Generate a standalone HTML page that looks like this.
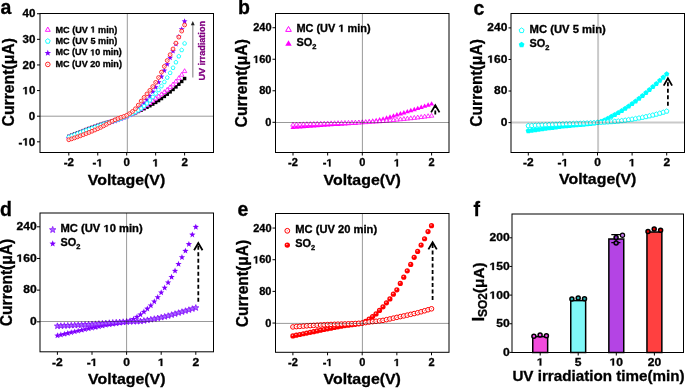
<!DOCTYPE html>
<html><head><meta charset="utf-8"><style>
html,body{margin:0;padding:0;background:#fff;}
body{width:685px;height:388px;overflow:hidden;}
svg{display:block;}
text{stroke:#000;stroke-width:0.3px;}
</style></head><body>
<svg style="will-change:transform" xmlns="http://www.w3.org/2000/svg" width="685" height="388" viewBox="0 0 685 388" font-family="'Liberation Sans', sans-serif" font-weight="bold">
<rect width="685" height="388" fill="#fff"/>
<text x="0.6" y="14.2" font-size="19.5">a</text><line x1="127.3" y1="13.5" x2="127.3" y2="152.5" stroke="#999" stroke-width="1"/><line x1="40" y1="116.2" x2="213.5" y2="116.2" stroke="#999" stroke-width="1"/><path d="M68.8,134.88 L69.56,136.93 L71.75,137.02 L70.04,138.38 L70.62,140.48 L68.8,139.28 L66.98,140.48 L67.56,138.38 L65.85,137.02 L68.04,136.93Z" fill="#7f00ff"/><path d="M71.7,133.72 L72.46,135.76 L74.64,135.86 L72.93,137.22 L73.52,139.32 L71.7,138.12 L69.87,139.32 L70.46,137.22 L68.75,135.86 L70.93,135.76Z" fill="#7f00ff"/><path d="M74.59,132.56 L75.35,134.61 L77.54,134.7 L75.83,136.06 L76.41,138.17 L74.59,136.96 L72.77,138.17 L73.35,136.06 L71.64,134.7 L73.83,134.61Z" fill="#7f00ff"/><path d="M77.49,131.41 L78.25,133.46 L80.43,133.56 L78.72,134.92 L79.31,137.02 L77.49,135.81 L75.66,137.02 L76.25,134.92 L74.54,133.56 L76.72,133.46Z" fill="#7f00ff"/><path d="M80.38,130.27 L81.14,132.32 L83.33,132.42 L81.62,133.78 L82.2,135.88 L80.38,134.67 L78.56,135.88 L79.14,133.78 L77.43,132.42 L79.62,132.32Z" fill="#7f00ff"/><path d="M83.28,129.14 L84.04,131.19 L86.22,131.28 L84.51,132.64 L85.1,134.75 L83.28,133.54 L81.45,134.75 L82.04,132.64 L80.33,131.28 L82.51,131.19Z" fill="#7f00ff"/><path d="M86.17,128.02 L86.93,130.07 L89.12,130.16 L87.41,131.52 L87.99,133.63 L86.17,132.42 L84.35,133.63 L84.93,131.52 L83.22,130.16 L85.41,130.07Z" fill="#7f00ff"/><path d="M89.06,126.9 L89.83,128.95 L92.01,129.05 L90.3,130.41 L90.89,132.51 L89.06,131.3 L87.24,132.51 L87.83,130.41 L86.12,129.05 L88.3,128.95Z" fill="#7f00ff"/><path d="M91.96,125.8 L92.72,127.84 L94.91,127.94 L93.2,129.3 L93.78,131.4 L91.96,130.2 L90.14,131.4 L90.72,129.3 L89.01,127.94 L91.2,127.84Z" fill="#7f00ff"/><path d="M94.86,124.7 L95.62,126.74 L97.8,126.84 L96.09,128.2 L96.68,130.3 L94.86,129.1 L93.03,130.3 L93.62,128.2 L91.91,126.84 L94.09,126.74Z" fill="#7f00ff"/><path d="M97.75,123.6 L98.51,125.65 L100.7,125.75 L98.99,127.11 L99.57,129.21 L97.75,128 L95.93,129.21 L96.51,127.11 L94.8,125.75 L96.99,125.65Z" fill="#7f00ff"/><path d="M100.65,122.56 L101.41,124.6 L103.59,124.7 L101.88,126.06 L102.47,128.16 L100.65,126.96 L98.82,128.16 L99.41,126.06 L97.7,124.7 L99.88,124.6Z" fill="#7f00ff"/><path d="M103.54,121.57 L104.3,123.62 L106.49,123.71 L104.78,125.07 L105.36,127.18 L103.54,125.97 L101.72,127.18 L102.3,125.07 L100.59,123.71 L102.78,123.62Z" fill="#7f00ff"/><path d="M106.44,120.63 L107.2,122.67 L109.38,122.77 L107.67,124.13 L108.26,126.23 L106.44,125.03 L104.61,126.23 L105.2,124.13 L103.49,122.77 L105.67,122.67Z" fill="#7f00ff"/><path d="M109.33,119.7 L110.09,121.74 L112.28,121.84 L110.57,123.2 L111.15,125.3 L109.33,124.1 L107.51,125.3 L108.09,123.2 L106.38,121.84 L108.57,121.74Z" fill="#7f00ff"/><path d="M112.23,118.76 L112.99,120.81 L115.17,120.9 L113.46,122.26 L114.05,124.37 L112.23,123.16 L110.4,124.37 L110.99,122.26 L109.28,120.9 L111.46,120.81Z" fill="#7f00ff"/><path d="M115.12,117.79 L115.88,119.83 L118.07,119.93 L116.36,121.29 L116.94,123.39 L115.12,122.19 L113.3,123.39 L113.88,121.29 L112.17,119.93 L114.36,119.83Z" fill="#7f00ff"/><path d="M118.02,116.76 L118.78,118.81 L120.96,118.9 L119.25,120.26 L119.84,122.37 L118.02,121.16 L116.19,122.37 L116.78,120.26 L115.07,118.9 L117.25,118.81Z" fill="#7f00ff"/><path d="M120.91,115.65 L121.67,117.7 L123.86,117.79 L122.15,119.15 L122.73,121.26 L120.91,120.05 L119.09,121.26 L119.67,119.15 L117.96,117.79 L120.15,117.7Z" fill="#7f00ff"/><path d="M123.81,114.44 L124.57,116.49 L126.75,116.58 L125.04,117.94 L125.63,120.05 L123.81,118.84 L121.98,120.05 L122.57,117.94 L120.86,116.58 L123.04,116.49Z" fill="#7f00ff"/><path d="M126.7,113.1 L127.46,115.15 L129.65,115.24 L127.94,116.6 L128.52,118.71 L126.7,117.5 L124.88,118.71 L125.46,116.6 L123.75,115.24 L125.94,115.15Z" fill="#7f00ff"/><path d="M129.59,111.6 L130.36,113.65 L132.54,113.74 L130.83,115.1 L131.42,117.21 L129.59,116 L127.77,117.21 L128.36,115.1 L126.65,113.74 L128.83,113.65Z" fill="#7f00ff"/><path d="M132.49,109.9 L133.25,111.95 L135.44,112.04 L133.73,113.4 L134.31,115.51 L132.49,114.3 L130.67,115.51 L131.25,113.4 L129.54,112.04 L131.73,111.95Z" fill="#7f00ff"/><path d="M135.38,107.97 L136.15,110.02 L138.33,110.12 L136.62,111.48 L137.21,113.58 L135.38,112.37 L133.56,113.58 L134.15,111.48 L132.44,110.12 L134.62,110.02Z" fill="#7f00ff"/><path d="M138.28,105.81 L139.04,107.85 L141.23,107.95 L139.52,109.31 L140.1,111.41 L138.28,110.21 L136.46,111.41 L137.04,109.31 L135.33,107.95 L137.52,107.85Z" fill="#7f00ff"/><path d="M141.18,103.36 L141.94,105.41 L144.12,105.51 L142.41,106.87 L143,108.97 L141.18,107.76 L139.35,108.97 L139.94,106.87 L138.23,105.51 L140.41,105.41Z" fill="#7f00ff"/><path d="M144.07,100.46 L144.83,102.5 L147.02,102.6 L145.31,103.96 L145.89,106.06 L144.07,104.86 L142.25,106.06 L142.83,103.96 L141.12,102.6 L143.31,102.5Z" fill="#7f00ff"/><path d="M146.97,96.97 L147.73,99.02 L149.91,99.11 L148.2,100.47 L148.79,102.58 L146.97,101.37 L145.14,102.58 L145.73,100.47 L144.02,99.11 L146.2,99.02Z" fill="#7f00ff"/><path d="M149.86,93.02 L150.62,95.07 L152.81,95.16 L151.1,96.52 L151.68,98.63 L149.86,97.42 L148.04,98.63 L148.62,96.52 L146.91,95.16 L149.1,95.07Z" fill="#7f00ff"/><path d="M152.75,88.71 L153.52,90.76 L155.7,90.85 L153.99,92.21 L154.58,94.32 L152.75,93.11 L150.93,94.32 L151.52,92.21 L149.81,90.85 L151.99,90.76Z" fill="#7f00ff"/><path d="M155.65,84.15 L156.41,86.2 L158.6,86.29 L156.89,87.65 L157.47,89.76 L155.65,88.55 L153.83,89.76 L154.41,87.65 L152.7,86.29 L154.89,86.2Z" fill="#7f00ff"/><path d="M158.55,79.15 L159.31,81.2 L161.49,81.29 L159.78,82.65 L160.37,84.76 L158.55,83.55 L156.72,84.76 L157.31,82.65 L155.6,81.29 L157.78,81.2Z" fill="#7f00ff"/><path d="M161.44,73.55 L162.2,75.6 L164.39,75.7 L162.68,77.06 L163.26,79.16 L161.44,77.95 L159.62,79.16 L160.2,77.06 L158.49,75.7 L160.68,75.6Z" fill="#7f00ff"/><path d="M164.34,67.51 L165.1,69.56 L167.28,69.65 L165.57,71.01 L166.16,73.12 L164.34,71.91 L162.51,73.12 L163.1,71.01 L161.39,69.65 L163.57,69.56Z" fill="#7f00ff"/><path d="M167.23,61.17 L167.99,63.22 L170.18,63.32 L168.47,64.68 L169.05,66.78 L167.23,65.57 L165.41,66.78 L165.99,64.68 L164.28,63.32 L166.47,63.22Z" fill="#7f00ff"/><path d="M170.12,54.69 L170.89,56.73 L173.07,56.83 L171.36,58.19 L171.95,60.29 L170.12,59.09 L168.3,60.29 L168.89,58.19 L167.18,56.83 L169.36,56.73Z" fill="#7f00ff"/><path d="M173.02,48.01 L173.78,50.06 L175.97,50.15 L174.26,51.51 L174.84,53.62 L173.02,52.41 L171.2,53.62 L171.78,51.51 L170.07,50.15 L172.26,50.06Z" fill="#7f00ff"/><path d="M175.91,41.02 L176.68,43.06 L178.86,43.16 L177.15,44.52 L177.74,46.62 L175.91,45.42 L174.09,46.62 L174.68,44.52 L172.97,43.16 L175.15,43.06Z" fill="#7f00ff"/><path d="M178.81,33.72 L179.57,35.77 L181.76,35.87 L180.05,37.22 L180.63,39.33 L178.81,38.12 L176.99,39.33 L177.57,37.22 L175.86,35.87 L178.05,35.77Z" fill="#7f00ff"/><path d="M181.7,26.15 L182.47,28.2 L184.65,28.29 L182.94,29.65 L183.53,31.76 L181.7,30.55 L179.88,31.76 L180.47,29.65 L178.76,28.29 L180.94,28.2Z" fill="#7f00ff"/><path d="M184.6,18.31 L185.36,20.35 L187.55,20.45 L185.84,21.81 L186.42,23.91 L184.6,22.71 L182.78,23.91 L183.36,21.81 L181.65,20.45 L183.84,20.35Z" fill="#7f00ff"/><rect x="67.05" y="134.69" width="3.5" height="3.5" fill="#000"/><rect x="69.95" y="133.51" width="3.5" height="3.5" fill="#000"/><rect x="72.84" y="132.34" width="3.5" height="3.5" fill="#000"/><rect x="75.74" y="131.19" width="3.5" height="3.5" fill="#000"/><rect x="78.63" y="130.06" width="3.5" height="3.5" fill="#000"/><rect x="81.53" y="128.95" width="3.5" height="3.5" fill="#000"/><rect x="84.42" y="127.85" width="3.5" height="3.5" fill="#000"/><rect x="87.31" y="126.78" width="3.5" height="3.5" fill="#000"/><rect x="90.21" y="125.72" width="3.5" height="3.5" fill="#000"/><rect x="93.11" y="124.69" width="3.5" height="3.5" fill="#000"/><rect x="96" y="123.67" width="3.5" height="3.5" fill="#000"/><rect x="98.9" y="122.7" width="3.5" height="3.5" fill="#000"/><rect x="101.79" y="121.77" width="3.5" height="3.5" fill="#000"/><rect x="104.69" y="120.88" width="3.5" height="3.5" fill="#000"/><rect x="107.58" y="120.01" width="3.5" height="3.5" fill="#000"/><rect x="110.48" y="119.15" width="3.5" height="3.5" fill="#000"/><rect x="113.37" y="118.28" width="3.5" height="3.5" fill="#000"/><rect x="116.27" y="117.38" width="3.5" height="3.5" fill="#000"/><rect x="119.16" y="116.46" width="3.5" height="3.5" fill="#000"/><rect x="122.06" y="115.49" width="3.5" height="3.5" fill="#000"/><rect x="124.95" y="114.45" width="3.5" height="3.5" fill="#000"/><rect x="127.84" y="113.34" width="3.5" height="3.5" fill="#000"/><rect x="130.74" y="112.17" width="3.5" height="3.5" fill="#000"/><rect x="133.63" y="110.94" width="3.5" height="3.5" fill="#000"/><rect x="136.53" y="109.64" width="3.5" height="3.5" fill="#000"/><rect x="139.43" y="108.3" width="3.5" height="3.5" fill="#000"/><rect x="142.32" y="106.91" width="3.5" height="3.5" fill="#000"/><rect x="145.22" y="105.46" width="3.5" height="3.5" fill="#000"/><rect x="148.11" y="103.94" width="3.5" height="3.5" fill="#000"/><rect x="151" y="102.33" width="3.5" height="3.5" fill="#000"/><rect x="153.9" y="100.62" width="3.5" height="3.5" fill="#000"/><rect x="156.8" y="98.76" width="3.5" height="3.5" fill="#000"/><rect x="159.69" y="96.77" width="3.5" height="3.5" fill="#000"/><rect x="162.59" y="94.65" width="3.5" height="3.5" fill="#000"/><rect x="165.48" y="92.42" width="3.5" height="3.5" fill="#000"/><rect x="168.38" y="90.11" width="3.5" height="3.5" fill="#000"/><rect x="171.27" y="87.69" width="3.5" height="3.5" fill="#000"/><rect x="174.16" y="85.14" width="3.5" height="3.5" fill="#000"/><rect x="177.06" y="82.47" width="3.5" height="3.5" fill="#000"/><rect x="179.95" y="79.68" width="3.5" height="3.5" fill="#000"/><rect x="182.85" y="76.79" width="3.5" height="3.5" fill="#000"/><path d="M68.8,134.28 L71.05,138.19 L66.55,138.19Z" fill="#fff" stroke="#f0f" stroke-width="0.8" stroke-linejoin="round"/><path d="M71.7,133.16 L73.95,137.07 L69.44,137.07Z" fill="#fff" stroke="#f0f" stroke-width="0.8" stroke-linejoin="round"/><path d="M74.59,132.05 L76.84,135.96 L72.34,135.96Z" fill="#fff" stroke="#f0f" stroke-width="0.8" stroke-linejoin="round"/><path d="M77.49,130.94 L79.74,134.85 L75.23,134.85Z" fill="#fff" stroke="#f0f" stroke-width="0.8" stroke-linejoin="round"/><path d="M80.38,129.85 L82.63,133.76 L78.13,133.76Z" fill="#fff" stroke="#f0f" stroke-width="0.8" stroke-linejoin="round"/><path d="M83.28,128.77 L85.53,132.68 L81.02,132.68Z" fill="#fff" stroke="#f0f" stroke-width="0.8" stroke-linejoin="round"/><path d="M86.17,127.7 L88.42,131.61 L83.92,131.61Z" fill="#fff" stroke="#f0f" stroke-width="0.8" stroke-linejoin="round"/><path d="M89.06,126.64 L91.32,130.55 L86.81,130.55Z" fill="#fff" stroke="#f0f" stroke-width="0.8" stroke-linejoin="round"/><path d="M91.96,125.59 L94.21,129.5 L89.71,129.5Z" fill="#fff" stroke="#f0f" stroke-width="0.8" stroke-linejoin="round"/><path d="M94.86,124.55 L97.11,128.46 L92.6,128.46Z" fill="#fff" stroke="#f0f" stroke-width="0.8" stroke-linejoin="round"/><path d="M97.75,123.52 L100,127.43 L95.5,127.43Z" fill="#fff" stroke="#f0f" stroke-width="0.8" stroke-linejoin="round"/><path d="M100.65,122.53 L102.9,126.44 L98.39,126.44Z" fill="#fff" stroke="#f0f" stroke-width="0.8" stroke-linejoin="round"/><path d="M103.54,121.58 L105.79,125.49 L101.29,125.49Z" fill="#fff" stroke="#f0f" stroke-width="0.8" stroke-linejoin="round"/><path d="M106.44,120.66 L108.69,124.57 L104.18,124.57Z" fill="#fff" stroke="#f0f" stroke-width="0.8" stroke-linejoin="round"/><path d="M109.33,119.76 L111.58,123.67 L107.08,123.67Z" fill="#fff" stroke="#f0f" stroke-width="0.8" stroke-linejoin="round"/><path d="M112.23,118.86 L114.48,122.77 L109.97,122.77Z" fill="#fff" stroke="#f0f" stroke-width="0.8" stroke-linejoin="round"/><path d="M115.12,117.94 L117.37,121.85 L112.87,121.85Z" fill="#fff" stroke="#f0f" stroke-width="0.8" stroke-linejoin="round"/><path d="M118.02,116.99 L120.27,120.9 L115.76,120.9Z" fill="#fff" stroke="#f0f" stroke-width="0.8" stroke-linejoin="round"/><path d="M120.91,115.99 L123.16,119.9 L118.66,119.9Z" fill="#fff" stroke="#f0f" stroke-width="0.8" stroke-linejoin="round"/><path d="M123.81,114.93 L126.06,118.84 L121.55,118.84Z" fill="#fff" stroke="#f0f" stroke-width="0.8" stroke-linejoin="round"/><path d="M126.7,113.78 L128.95,117.7 L124.45,117.7Z" fill="#fff" stroke="#f0f" stroke-width="0.8" stroke-linejoin="round"/><path d="M129.59,112.55 L131.85,116.46 L127.34,116.46Z" fill="#fff" stroke="#f0f" stroke-width="0.8" stroke-linejoin="round"/><path d="M132.49,111.22 L134.74,115.13 L130.24,115.13Z" fill="#fff" stroke="#f0f" stroke-width="0.8" stroke-linejoin="round"/><path d="M135.38,109.8 L137.64,113.71 L133.13,113.71Z" fill="#fff" stroke="#f0f" stroke-width="0.8" stroke-linejoin="round"/><path d="M138.28,108.26 L140.53,112.17 L136.03,112.17Z" fill="#fff" stroke="#f0f" stroke-width="0.8" stroke-linejoin="round"/><path d="M141.18,106.61 L143.43,110.52 L138.92,110.52Z" fill="#fff" stroke="#f0f" stroke-width="0.8" stroke-linejoin="round"/><path d="M144.07,104.78 L146.32,108.69 L141.82,108.69Z" fill="#fff" stroke="#f0f" stroke-width="0.8" stroke-linejoin="round"/><path d="M146.97,102.73 L149.22,106.64 L144.71,106.64Z" fill="#fff" stroke="#f0f" stroke-width="0.8" stroke-linejoin="round"/><path d="M149.86,100.55 L152.11,104.46 L147.61,104.46Z" fill="#fff" stroke="#f0f" stroke-width="0.8" stroke-linejoin="round"/><path d="M152.75,98.32 L155.01,102.23 L150.5,102.23Z" fill="#fff" stroke="#f0f" stroke-width="0.8" stroke-linejoin="round"/><path d="M155.65,96.11 L157.9,100.02 L153.4,100.02Z" fill="#fff" stroke="#f0f" stroke-width="0.8" stroke-linejoin="round"/><path d="M158.55,93.97 L160.8,97.88 L156.29,97.88Z" fill="#fff" stroke="#f0f" stroke-width="0.8" stroke-linejoin="round"/><path d="M161.44,91.85 L163.69,95.76 L159.19,95.76Z" fill="#fff" stroke="#f0f" stroke-width="0.8" stroke-linejoin="round"/><path d="M164.34,89.67 L166.59,93.58 L162.08,93.58Z" fill="#fff" stroke="#f0f" stroke-width="0.8" stroke-linejoin="round"/><path d="M167.23,87.36 L169.48,91.27 L164.98,91.27Z" fill="#fff" stroke="#f0f" stroke-width="0.8" stroke-linejoin="round"/><path d="M170.12,84.83 L172.38,88.74 L167.87,88.74Z" fill="#fff" stroke="#f0f" stroke-width="0.8" stroke-linejoin="round"/><path d="M173.02,82.05 L175.27,85.96 L170.77,85.96Z" fill="#fff" stroke="#f0f" stroke-width="0.8" stroke-linejoin="round"/><path d="M175.91,79.02 L178.17,82.93 L173.66,82.93Z" fill="#fff" stroke="#f0f" stroke-width="0.8" stroke-linejoin="round"/><path d="M178.81,75.78 L181.06,79.69 L176.56,79.69Z" fill="#fff" stroke="#f0f" stroke-width="0.8" stroke-linejoin="round"/><path d="M181.7,72.33 L183.96,76.24 L179.45,76.24Z" fill="#fff" stroke="#f0f" stroke-width="0.8" stroke-linejoin="round"/><path d="M184.6,68.69 L186.85,72.6 L182.35,72.6Z" fill="#fff" stroke="#f0f" stroke-width="0.8" stroke-linejoin="round"/><path d="M68.8,134.9 L70.75,136.32 L70,138.61 L67.6,138.61 L66.85,136.32Z" fill="#fff" stroke="#0ff" stroke-width="0.85"/><path d="M71.7,133.79 L73.64,135.21 L72.9,137.5 L70.49,137.5 L69.75,135.21Z" fill="#fff" stroke="#0ff" stroke-width="0.85"/><path d="M74.59,132.69 L76.54,134.1 L75.79,136.4 L73.39,136.4 L72.64,134.1Z" fill="#fff" stroke="#0ff" stroke-width="0.85"/><path d="M77.49,131.59 L79.43,133.01 L78.69,135.3 L76.28,135.3 L75.54,133.01Z" fill="#fff" stroke="#0ff" stroke-width="0.85"/><path d="M80.38,130.5 L82.33,131.92 L81.58,134.21 L79.18,134.21 L78.43,131.92Z" fill="#fff" stroke="#0ff" stroke-width="0.85"/><path d="M83.28,129.42 L85.22,130.84 L84.48,133.13 L82.07,133.13 L81.33,130.84Z" fill="#fff" stroke="#0ff" stroke-width="0.85"/><path d="M86.17,128.35 L88.12,129.77 L87.37,132.06 L84.97,132.06 L84.22,129.77Z" fill="#fff" stroke="#0ff" stroke-width="0.85"/><path d="M89.06,127.29 L91.01,128.7 L90.27,131 L87.86,131 L87.12,128.7Z" fill="#fff" stroke="#0ff" stroke-width="0.85"/><path d="M91.96,126.23 L93.91,127.65 L93.16,129.94 L90.76,129.94 L90.01,127.65Z" fill="#fff" stroke="#0ff" stroke-width="0.85"/><path d="M94.86,125.18 L96.8,126.6 L96.06,128.89 L93.65,128.89 L92.91,126.6Z" fill="#fff" stroke="#0ff" stroke-width="0.85"/><path d="M97.75,124.14 L99.7,125.56 L98.95,127.85 L96.55,127.85 L95.8,125.56Z" fill="#fff" stroke="#0ff" stroke-width="0.85"/><path d="M100.65,123.13 L102.59,124.55 L101.85,126.84 L99.44,126.84 L98.7,124.55Z" fill="#fff" stroke="#0ff" stroke-width="0.85"/><path d="M103.54,122.17 L105.49,123.59 L104.74,125.88 L102.34,125.88 L101.59,123.59Z" fill="#fff" stroke="#0ff" stroke-width="0.85"/><path d="M106.44,121.24 L108.38,122.66 L107.64,124.95 L105.23,124.95 L104.49,122.66Z" fill="#fff" stroke="#0ff" stroke-width="0.85"/><path d="M109.33,120.32 L111.28,121.74 L110.53,124.03 L108.13,124.03 L107.38,121.74Z" fill="#fff" stroke="#0ff" stroke-width="0.85"/><path d="M112.23,119.4 L114.17,120.82 L113.43,123.11 L111.02,123.11 L110.28,120.82Z" fill="#fff" stroke="#0ff" stroke-width="0.85"/><path d="M115.12,118.46 L117.07,119.88 L116.32,122.17 L113.92,122.17 L113.17,119.88Z" fill="#fff" stroke="#0ff" stroke-width="0.85"/><path d="M118.02,117.48 L119.96,118.9 L119.22,121.19 L116.81,121.19 L116.07,118.9Z" fill="#fff" stroke="#0ff" stroke-width="0.85"/><path d="M120.91,116.45 L122.86,117.86 L122.11,120.15 L119.71,120.15 L118.96,117.86Z" fill="#fff" stroke="#0ff" stroke-width="0.85"/><path d="M123.81,115.34 L125.75,116.76 L125.01,119.05 L122.6,119.05 L121.86,116.76Z" fill="#fff" stroke="#0ff" stroke-width="0.85"/><path d="M126.7,114.15 L128.65,115.57 L127.9,117.86 L125.5,117.86 L124.75,115.57Z" fill="#fff" stroke="#0ff" stroke-width="0.85"/><path d="M129.59,112.88 L131.54,114.3 L130.8,116.59 L128.39,116.59 L127.65,114.3Z" fill="#fff" stroke="#0ff" stroke-width="0.85"/><path d="M132.49,111.52 L134.44,112.94 L133.69,115.23 L131.29,115.23 L130.54,112.94Z" fill="#fff" stroke="#0ff" stroke-width="0.85"/><path d="M135.38,110.03 L137.33,111.45 L136.59,113.74 L134.18,113.74 L133.44,111.45Z" fill="#fff" stroke="#0ff" stroke-width="0.85"/><path d="M138.28,108.36 L140.23,109.78 L139.48,112.07 L137.08,112.07 L136.33,109.78Z" fill="#fff" stroke="#0ff" stroke-width="0.85"/><path d="M141.18,106.46 L143.12,107.88 L142.38,110.17 L139.97,110.17 L139.23,107.88Z" fill="#fff" stroke="#0ff" stroke-width="0.85"/><path d="M144.07,104.18 L146.02,105.59 L145.27,107.88 L142.87,107.88 L142.12,105.59Z" fill="#fff" stroke="#0ff" stroke-width="0.85"/><path d="M146.97,101.44 L148.91,102.85 L148.17,105.15 L145.76,105.15 L145.02,102.85Z" fill="#fff" stroke="#0ff" stroke-width="0.85"/><path d="M149.86,98.36 L151.81,99.77 L151.06,102.06 L148.66,102.06 L147.91,99.77Z" fill="#fff" stroke="#0ff" stroke-width="0.85"/><path d="M152.75,95.04 L154.7,96.46 L153.96,98.75 L151.55,98.75 L150.81,96.46Z" fill="#fff" stroke="#0ff" stroke-width="0.85"/><path d="M155.65,91.6 L157.6,93.02 L156.85,95.31 L154.45,95.31 L153.7,93.02Z" fill="#fff" stroke="#0ff" stroke-width="0.85"/><path d="M158.55,88.01 L160.49,89.43 L159.75,91.72 L157.34,91.72 L156.6,89.43Z" fill="#fff" stroke="#0ff" stroke-width="0.85"/><path d="M161.44,84.14 L163.39,85.56 L162.64,87.85 L160.24,87.85 L159.49,85.56Z" fill="#fff" stroke="#0ff" stroke-width="0.85"/><path d="M164.34,80 L166.28,81.42 L165.54,83.71 L163.13,83.71 L162.39,81.42Z" fill="#fff" stroke="#0ff" stroke-width="0.85"/><path d="M167.23,75.57 L169.18,76.99 L168.43,79.28 L166.03,79.28 L165.28,76.99Z" fill="#fff" stroke="#0ff" stroke-width="0.85"/><path d="M170.12,70.85 L172.07,72.27 L171.33,74.56 L168.92,74.56 L168.18,72.27Z" fill="#fff" stroke="#0ff" stroke-width="0.85"/><path d="M173.02,65.75 L174.97,67.17 L174.22,69.46 L171.82,69.46 L171.07,67.17Z" fill="#fff" stroke="#0ff" stroke-width="0.85"/><path d="M175.91,60.22 L177.86,61.64 L177.12,63.93 L174.71,63.93 L173.97,61.64Z" fill="#fff" stroke="#0ff" stroke-width="0.85"/><path d="M178.81,54.29 L180.76,55.71 L180.01,58 L177.61,58 L176.86,55.71Z" fill="#fff" stroke="#0ff" stroke-width="0.85"/><path d="M181.7,48 L183.65,49.42 L182.91,51.71 L180.5,51.71 L179.76,49.42Z" fill="#fff" stroke="#0ff" stroke-width="0.85"/><path d="M184.6,41.39 L186.55,42.81 L185.8,45.1 L183.4,45.1 L182.65,42.81Z" fill="#fff" stroke="#0ff" stroke-width="0.85"/><circle cx="68.8" cy="139.77" r="1.9" fill="#fff" stroke="#f22" stroke-width="0.95"/><circle cx="68.8" cy="139.77" r="0.55" fill="#f22" opacity="0.7"/><circle cx="71.7" cy="138.86" r="1.9" fill="#fff" stroke="#f22" stroke-width="0.95"/><circle cx="71.7" cy="138.86" r="0.55" fill="#f22" opacity="0.7"/><circle cx="74.59" cy="137.89" r="1.9" fill="#fff" stroke="#f22" stroke-width="0.95"/><circle cx="74.59" cy="137.89" r="0.55" fill="#f22" opacity="0.7"/><circle cx="77.49" cy="136.88" r="1.9" fill="#fff" stroke="#f22" stroke-width="0.95"/><circle cx="77.49" cy="136.88" r="0.55" fill="#f22" opacity="0.7"/><circle cx="80.38" cy="135.83" r="1.9" fill="#fff" stroke="#f22" stroke-width="0.95"/><circle cx="80.38" cy="135.83" r="0.55" fill="#f22" opacity="0.7"/><circle cx="83.28" cy="134.74" r="1.9" fill="#fff" stroke="#f22" stroke-width="0.95"/><circle cx="83.28" cy="134.74" r="0.55" fill="#f22" opacity="0.7"/><circle cx="86.17" cy="133.6" r="1.9" fill="#fff" stroke="#f22" stroke-width="0.95"/><circle cx="86.17" cy="133.6" r="0.55" fill="#f22" opacity="0.7"/><circle cx="89.06" cy="132.44" r="1.9" fill="#fff" stroke="#f22" stroke-width="0.95"/><circle cx="89.06" cy="132.44" r="0.55" fill="#f22" opacity="0.7"/><circle cx="91.96" cy="131.24" r="1.9" fill="#fff" stroke="#f22" stroke-width="0.95"/><circle cx="91.96" cy="131.24" r="0.55" fill="#f22" opacity="0.7"/><circle cx="94.86" cy="130.01" r="1.9" fill="#fff" stroke="#f22" stroke-width="0.95"/><circle cx="94.86" cy="130.01" r="0.55" fill="#f22" opacity="0.7"/><circle cx="97.75" cy="128.75" r="1.9" fill="#fff" stroke="#f22" stroke-width="0.95"/><circle cx="97.75" cy="128.75" r="0.55" fill="#f22" opacity="0.7"/><circle cx="100.65" cy="127.4" r="1.9" fill="#fff" stroke="#f22" stroke-width="0.95"/><circle cx="100.65" cy="127.4" r="0.55" fill="#f22" opacity="0.7"/><circle cx="103.54" cy="125.92" r="1.9" fill="#fff" stroke="#f22" stroke-width="0.95"/><circle cx="103.54" cy="125.92" r="0.55" fill="#f22" opacity="0.7"/><circle cx="106.44" cy="124.37" r="1.9" fill="#fff" stroke="#f22" stroke-width="0.95"/><circle cx="106.44" cy="124.37" r="0.55" fill="#f22" opacity="0.7"/><circle cx="109.33" cy="122.79" r="1.9" fill="#fff" stroke="#f22" stroke-width="0.95"/><circle cx="109.33" cy="122.79" r="0.55" fill="#f22" opacity="0.7"/><circle cx="112.23" cy="121.25" r="1.9" fill="#fff" stroke="#f22" stroke-width="0.95"/><circle cx="112.23" cy="121.25" r="0.55" fill="#f22" opacity="0.7"/><circle cx="115.12" cy="119.81" r="1.9" fill="#fff" stroke="#f22" stroke-width="0.95"/><circle cx="115.12" cy="119.81" r="0.55" fill="#f22" opacity="0.7"/><circle cx="118.02" cy="118.51" r="1.9" fill="#fff" stroke="#f22" stroke-width="0.95"/><circle cx="118.02" cy="118.51" r="0.55" fill="#f22" opacity="0.7"/><circle cx="120.91" cy="117.44" r="1.9" fill="#fff" stroke="#f22" stroke-width="0.95"/><circle cx="120.91" cy="117.44" r="0.55" fill="#f22" opacity="0.7"/><circle cx="123.81" cy="116.46" r="1.9" fill="#fff" stroke="#f22" stroke-width="0.95"/><circle cx="123.81" cy="116.46" r="0.55" fill="#f22" opacity="0.7"/><circle cx="126.7" cy="115.3" r="1.9" fill="#fff" stroke="#f22" stroke-width="0.95"/><circle cx="126.7" cy="115.3" r="0.55" fill="#f22" opacity="0.7"/><circle cx="129.59" cy="113.64" r="1.9" fill="#fff" stroke="#f22" stroke-width="0.95"/><circle cx="129.59" cy="113.64" r="0.55" fill="#f22" opacity="0.7"/><circle cx="132.49" cy="111.46" r="1.9" fill="#fff" stroke="#f22" stroke-width="0.95"/><circle cx="132.49" cy="111.46" r="0.55" fill="#f22" opacity="0.7"/><circle cx="135.38" cy="108.77" r="1.9" fill="#fff" stroke="#f22" stroke-width="0.95"/><circle cx="135.38" cy="108.77" r="0.55" fill="#f22" opacity="0.7"/><circle cx="138.28" cy="105.13" r="1.9" fill="#fff" stroke="#f22" stroke-width="0.95"/><circle cx="138.28" cy="105.13" r="0.55" fill="#f22" opacity="0.7"/><circle cx="141.18" cy="101.08" r="1.9" fill="#fff" stroke="#f22" stroke-width="0.95"/><circle cx="141.18" cy="101.08" r="0.55" fill="#f22" opacity="0.7"/><circle cx="144.07" cy="97.42" r="1.9" fill="#fff" stroke="#f22" stroke-width="0.95"/><circle cx="144.07" cy="97.42" r="0.55" fill="#f22" opacity="0.7"/><circle cx="146.97" cy="93.91" r="1.9" fill="#fff" stroke="#f22" stroke-width="0.95"/><circle cx="146.97" cy="93.91" r="0.55" fill="#f22" opacity="0.7"/><circle cx="149.86" cy="90.36" r="1.9" fill="#fff" stroke="#f22" stroke-width="0.95"/><circle cx="149.86" cy="90.36" r="0.55" fill="#f22" opacity="0.7"/><circle cx="152.75" cy="86.58" r="1.9" fill="#fff" stroke="#f22" stroke-width="0.95"/><circle cx="152.75" cy="86.58" r="0.55" fill="#f22" opacity="0.7"/><circle cx="155.65" cy="82.38" r="1.9" fill="#fff" stroke="#f22" stroke-width="0.95"/><circle cx="155.65" cy="82.38" r="0.55" fill="#f22" opacity="0.7"/><circle cx="158.55" cy="77.56" r="1.9" fill="#fff" stroke="#f22" stroke-width="0.95"/><circle cx="158.55" cy="77.56" r="0.55" fill="#f22" opacity="0.7"/><circle cx="161.44" cy="72.18" r="1.9" fill="#fff" stroke="#f22" stroke-width="0.95"/><circle cx="161.44" cy="72.18" r="0.55" fill="#f22" opacity="0.7"/><circle cx="164.34" cy="66.44" r="1.9" fill="#fff" stroke="#f22" stroke-width="0.95"/><circle cx="164.34" cy="66.44" r="0.55" fill="#f22" opacity="0.7"/><circle cx="167.23" cy="60.54" r="1.9" fill="#fff" stroke="#f22" stroke-width="0.95"/><circle cx="167.23" cy="60.54" r="0.55" fill="#f22" opacity="0.7"/><circle cx="170.12" cy="54.71" r="1.9" fill="#fff" stroke="#f22" stroke-width="0.95"/><circle cx="170.12" cy="54.71" r="0.55" fill="#f22" opacity="0.7"/><circle cx="173.02" cy="48.94" r="1.9" fill="#fff" stroke="#f22" stroke-width="0.95"/><circle cx="173.02" cy="48.94" r="0.55" fill="#f22" opacity="0.7"/><circle cx="175.91" cy="43.08" r="1.9" fill="#fff" stroke="#f22" stroke-width="0.95"/><circle cx="175.91" cy="43.08" r="0.55" fill="#f22" opacity="0.7"/><circle cx="178.81" cy="37.13" r="1.9" fill="#fff" stroke="#f22" stroke-width="0.95"/><circle cx="178.81" cy="37.13" r="0.55" fill="#f22" opacity="0.7"/><circle cx="181.7" cy="31.1" r="1.9" fill="#fff" stroke="#f22" stroke-width="0.95"/><circle cx="181.7" cy="31.1" r="0.55" fill="#f22" opacity="0.7"/><circle cx="184.6" cy="24.99" r="1.9" fill="#fff" stroke="#f22" stroke-width="0.95"/><circle cx="184.6" cy="24.99" r="0.55" fill="#f22" opacity="0.7"/><rect x="40" y="13.5" width="173.5" height="139" fill="none" stroke="#000" stroke-width="1.0"/><line x1="37" y1="13.72" x2="40" y2="13.72" stroke="#000" stroke-width="1"/><text font-size="10.5" text-anchor="end" transform="translate(35.3 17.42) scale(1.1 1)">40</text><line x1="37" y1="39.34" x2="40" y2="39.34" stroke="#000" stroke-width="1"/><text font-size="10.5" text-anchor="end" transform="translate(35.3 43.04) scale(1.1 1)">30</text><line x1="37" y1="64.96" x2="40" y2="64.96" stroke="#000" stroke-width="1"/><text font-size="10.5" text-anchor="end" transform="translate(35.3 68.66) scale(1.1 1)">20</text><line x1="37" y1="90.58" x2="40" y2="90.58" stroke="#000" stroke-width="1"/><g transform="translate(35.3 94.28) scale(1.1000 1)"><text x="-11.68" y="0" font-size="10.5"><tspan style="fill:none;stroke:none">1</tspan>0</text><path d="M478,0L478,1170L140,959L140,1180L493,1409L759,1409L759,0Z" transform="translate(-11.679 0) scale(0.005127 -0.005127)" fill="#000" stroke="#000" stroke-width="0.3" vector-effect="non-scaling-stroke"/></g><line x1="37" y1="116.2" x2="40" y2="116.2" stroke="#000" stroke-width="1"/><text font-size="10.5" text-anchor="end" transform="translate(35.3 119.9) scale(1.1 1)">0</text><line x1="37" y1="141.82" x2="40" y2="141.82" stroke="#000" stroke-width="1"/><g transform="translate(35.3 145.52) scale(1.1000 1)"><text x="-15.18" y="0" font-size="10.5">-<tspan style="fill:none;stroke:none">1</tspan>0</text><path d="M478,0L478,1170L140,959L140,1180L493,1409L759,1409L759,0Z" transform="translate(-11.679 0) scale(0.005127 -0.005127)" fill="#000" stroke="#000" stroke-width="0.3" vector-effect="non-scaling-stroke"/></g><line x1="68.8" y1="152.5" x2="68.8" y2="155.5" stroke="#000" stroke-width="1"/><text font-size="10.5" text-anchor="middle" transform="translate(68.8 166.4) scale(1.1 1)">-2</text><line x1="97.75" y1="152.5" x2="97.75" y2="155.5" stroke="#000" stroke-width="1"/><g transform="translate(97.75 166.4) scale(1.1000 1)"><text x="-4.67" y="0" font-size="10.5">-<tspan style="fill:none;stroke:none">1</tspan></text><path d="M478,0L478,1170L140,959L140,1180L493,1409L759,1409L759,0Z" transform="translate(-1.172 0) scale(0.005127 -0.005127)" fill="#000" stroke="#000" stroke-width="0.3" vector-effect="non-scaling-stroke"/></g><line x1="126.7" y1="152.5" x2="126.7" y2="155.5" stroke="#000" stroke-width="1"/><text font-size="10.5" text-anchor="middle" transform="translate(126.7 166.4) scale(1.1 1)">0</text><line x1="155.65" y1="152.5" x2="155.65" y2="155.5" stroke="#000" stroke-width="1"/><g transform="translate(155.65 166.4) scale(1.1000 1)"><text x="-2.92" y="0" font-size="10.5"><tspan style="fill:none;stroke:none">1</tspan></text><path d="M478,0L478,1170L140,959L140,1180L493,1409L759,1409L759,0Z" transform="translate(-2.920 0) scale(0.005127 -0.005127)" fill="#000" stroke="#000" stroke-width="0.3" vector-effect="non-scaling-stroke"/></g><line x1="184.6" y1="152.5" x2="184.6" y2="155.5" stroke="#000" stroke-width="1"/><text font-size="10.5" text-anchor="middle" transform="translate(184.6 166.4) scale(1.1 1)">2</text><path d="M47.8,27.07 L50.25,31.32 L45.35,31.32Z" fill="#fff" stroke="#f0f" stroke-width="0.9" stroke-linejoin="round"/><g transform="translate(55.5 32.5) scale(1.0602 1)"><text x="0" y="0" font-size="8.6">MC (UV <tspan style="fill:none;stroke:none">1</tspan> min)</text><path d="M478,0L478,1170L140,959L140,1180L493,1409L759,1409L759,0Z" transform="translate(32.964 0) scale(0.004199 -0.004199)" fill="#000" stroke="#000" stroke-width="0.3" vector-effect="non-scaling-stroke"/></g><path d="M47.8,38.7 L50.18,40.43 L49.27,43.22 L46.33,43.22 L45.42,40.43Z" fill="#fff" stroke="#0ff" stroke-width="0.9"/><text x="55.5" y="43.95" font-size="8.6" textLength="61.8" lengthAdjust="spacingAndGlyphs">MC (UV 5 min)</text><path d="M47.8,49.7 L48.65,51.93 L51.03,52.05 L49.18,53.55 L49.8,55.85 L47.8,54.55 L45.8,55.85 L46.42,53.55 L44.57,52.05 L46.95,51.93Z" fill="#7f00ff"/><g transform="translate(55.5 55.4) scale(1.0528 1)"><text x="0" y="0" font-size="8.6">MC (UV <tspan style="fill:none;stroke:none">1</tspan>0 min)</text><path d="M478,0L478,1170L140,959L140,1180L493,1409L759,1409L759,0Z" transform="translate(32.964 0) scale(0.004199 -0.004199)" fill="#000" stroke="#000" stroke-width="0.3" vector-effect="non-scaling-stroke"/></g><circle cx="47.8" cy="64.4" r="2.3" fill="#fff" stroke="#f22" stroke-width="1.0"/><circle cx="47.8" cy="64.4" r="0.55" fill="#f22" opacity="0.7"/><text x="55.5" y="66.85" font-size="8.6" textLength="66.4" lengthAdjust="spacingAndGlyphs">MC (UV 20 min)</text><line x1="192.8" y1="24.5" x2="192.8" y2="77.6" stroke="#999" stroke-width="1.3"/><path d="M190.9,25.3 L192.8,20.9 L194.7,25.3 Z" fill="#222"/><text x="204.6" y="80.6" font-size="8.4" fill="#800080" style="stroke:#800080" textLength="59.6" lengthAdjust="spacingAndGlyphs" transform="rotate(-90 204.6 80.6)">UV irradiation</text><text x="14.5" y="126.4" font-size="16" textLength="88.3" lengthAdjust="spacingAndGlyphs" transform="rotate(-90 14.5 126.4)">Current(μA)</text><text x="126.5" y="184.5" font-size="15.5" text-anchor="middle" textLength="77.4" lengthAdjust="spacingAndGlyphs">Voltage(V)</text><text x="238" y="13.9" font-size="19.5">b</text><path d="M293,124.69 L295.55,129.11 L290.45,129.11Z" fill="#f0f"/><path d="M296.47,124.44 L299.01,128.86 L293.92,128.86Z" fill="#f0f"/><path d="M299.93,124.19 L302.48,128.61 L297.38,128.61Z" fill="#f0f"/><path d="M303.4,123.94 L305.94,128.36 L300.85,128.36Z" fill="#f0f"/><path d="M306.86,123.69 L309.41,128.11 L304.31,128.11Z" fill="#f0f"/><path d="M310.33,123.44 L312.87,127.86 L307.78,127.86Z" fill="#f0f"/><path d="M313.79,123.19 L316.34,127.61 L311.24,127.61Z" fill="#f0f"/><path d="M317.25,122.94 L319.8,127.36 L314.71,127.36Z" fill="#f0f"/><path d="M320.72,122.68 L323.27,127.1 L318.17,127.1Z" fill="#f0f"/><path d="M324.19,122.43 L326.73,126.85 L321.64,126.85Z" fill="#f0f"/><path d="M327.65,122.17 L330.2,126.59 L325.1,126.59Z" fill="#f0f"/><path d="M331.12,121.92 L333.66,126.34 L328.57,126.34Z" fill="#f0f"/><path d="M334.58,121.69 L337.13,126.11 L332.03,126.11Z" fill="#f0f"/><path d="M338.05,121.46 L340.59,125.88 L335.5,125.88Z" fill="#f0f"/><path d="M341.51,121.23 L344.06,125.65 L338.96,125.65Z" fill="#f0f"/><path d="M344.98,121 L347.52,125.42 L342.43,125.42Z" fill="#f0f"/><path d="M348.44,120.75 L350.99,125.17 L345.89,125.17Z" fill="#f0f"/><path d="M351.91,120.5 L354.45,124.92 L349.36,124.92Z" fill="#f0f"/><path d="M355.37,120.22 L357.92,124.64 L352.82,124.64Z" fill="#f0f"/><path d="M358.84,119.91 L361.38,124.33 L356.29,124.33Z" fill="#f0f"/><path d="M362.3,119.57 L364.85,123.99 L359.75,123.99Z" fill="#f0f"/><path d="M365.76,119.18 L368.31,123.6 L363.22,123.6Z" fill="#f0f"/><path d="M369.23,118.73 L371.78,123.15 L366.68,123.15Z" fill="#f0f"/><path d="M372.69,118.22 L375.24,122.64 L370.15,122.64Z" fill="#f0f"/><path d="M376.16,117.65 L378.71,122.07 L373.61,122.07Z" fill="#f0f"/><path d="M379.62,117.01 L382.17,121.43 L377.08,121.43Z" fill="#f0f"/><path d="M383.09,116.23 L385.64,120.65 L380.54,120.65Z" fill="#f0f"/><path d="M386.56,115.28 L389.1,119.7 L384.01,119.7Z" fill="#f0f"/><path d="M390.02,114.23 L392.57,118.65 L387.47,118.65Z" fill="#f0f"/><path d="M393.49,113.14 L396.03,117.56 L390.94,117.56Z" fill="#f0f"/><path d="M396.95,112.08 L399.5,116.5 L394.4,116.5Z" fill="#f0f"/><path d="M400.42,111.05 L402.96,115.47 L397.87,115.47Z" fill="#f0f"/><path d="M403.88,110 L406.43,114.42 L401.33,114.42Z" fill="#f0f"/><path d="M407.35,108.93 L409.89,113.35 L404.8,113.35Z" fill="#f0f"/><path d="M410.81,107.85 L413.36,112.27 L408.26,112.27Z" fill="#f0f"/><path d="M414.27,106.77 L416.82,111.19 L411.73,111.19Z" fill="#f0f"/><path d="M417.74,105.67 L420.29,110.09 L415.19,110.09Z" fill="#f0f"/><path d="M421.2,104.56 L423.75,108.98 L418.66,108.98Z" fill="#f0f"/><path d="M424.67,103.44 L427.22,107.86 L422.12,107.86Z" fill="#f0f"/><path d="M428.13,102.31 L430.68,106.73 L425.59,106.73Z" fill="#f0f"/><path d="M431.6,101.17 L434.15,105.59 L429.05,105.59Z" fill="#f0f"/><path d="M293,122.25 L295.25,126.16 L290.75,126.16Z" fill="#fff" stroke="#f0f" stroke-width="0.8" stroke-linejoin="round"/><path d="M296.47,122.12 L298.72,126.03 L294.21,126.03Z" fill="#fff" stroke="#f0f" stroke-width="0.8" stroke-linejoin="round"/><path d="M299.93,121.98 L302.18,125.89 L297.68,125.89Z" fill="#fff" stroke="#f0f" stroke-width="0.8" stroke-linejoin="round"/><path d="M303.4,121.85 L305.65,125.76 L301.14,125.76Z" fill="#fff" stroke="#f0f" stroke-width="0.8" stroke-linejoin="round"/><path d="M306.86,121.73 L309.11,125.64 L304.61,125.64Z" fill="#fff" stroke="#f0f" stroke-width="0.8" stroke-linejoin="round"/><path d="M310.33,121.6 L312.58,125.51 L308.07,125.51Z" fill="#fff" stroke="#f0f" stroke-width="0.8" stroke-linejoin="round"/><path d="M313.79,121.47 L316.04,125.38 L311.54,125.38Z" fill="#fff" stroke="#f0f" stroke-width="0.8" stroke-linejoin="round"/><path d="M317.25,121.35 L319.51,125.26 L315,125.26Z" fill="#fff" stroke="#f0f" stroke-width="0.8" stroke-linejoin="round"/><path d="M320.72,121.23 L322.97,125.14 L318.47,125.14Z" fill="#fff" stroke="#f0f" stroke-width="0.8" stroke-linejoin="round"/><path d="M324.19,121.11 L326.44,125.02 L321.93,125.02Z" fill="#fff" stroke="#f0f" stroke-width="0.8" stroke-linejoin="round"/><path d="M327.65,120.99 L329.9,124.9 L325.4,124.9Z" fill="#fff" stroke="#f0f" stroke-width="0.8" stroke-linejoin="round"/><path d="M331.12,120.88 L333.37,124.79 L328.86,124.79Z" fill="#fff" stroke="#f0f" stroke-width="0.8" stroke-linejoin="round"/><path d="M334.58,120.77 L336.83,124.68 L332.33,124.68Z" fill="#fff" stroke="#f0f" stroke-width="0.8" stroke-linejoin="round"/><path d="M338.05,120.67 L340.3,124.58 L335.79,124.58Z" fill="#fff" stroke="#f0f" stroke-width="0.8" stroke-linejoin="round"/><path d="M341.51,120.57 L343.76,124.48 L339.26,124.48Z" fill="#fff" stroke="#f0f" stroke-width="0.8" stroke-linejoin="round"/><path d="M344.98,120.47 L347.23,124.38 L342.72,124.38Z" fill="#fff" stroke="#f0f" stroke-width="0.8" stroke-linejoin="round"/><path d="M348.44,120.37 L350.69,124.28 L346.19,124.28Z" fill="#fff" stroke="#f0f" stroke-width="0.8" stroke-linejoin="round"/><path d="M351.91,120.27 L354.16,124.18 L349.65,124.18Z" fill="#fff" stroke="#f0f" stroke-width="0.8" stroke-linejoin="round"/><path d="M355.37,120.15 L357.62,124.06 L353.12,124.06Z" fill="#fff" stroke="#f0f" stroke-width="0.8" stroke-linejoin="round"/><path d="M358.84,120.03 L361.09,123.94 L356.58,123.94Z" fill="#fff" stroke="#f0f" stroke-width="0.8" stroke-linejoin="round"/><path d="M362.3,119.88 L364.55,123.8 L360.05,123.8Z" fill="#fff" stroke="#f0f" stroke-width="0.8" stroke-linejoin="round"/><path d="M365.76,119.72 L368.02,123.63 L363.51,123.63Z" fill="#fff" stroke="#f0f" stroke-width="0.8" stroke-linejoin="round"/><path d="M369.23,119.54 L371.48,123.45 L366.98,123.45Z" fill="#fff" stroke="#f0f" stroke-width="0.8" stroke-linejoin="round"/><path d="M372.69,119.33 L374.95,123.24 L370.44,123.24Z" fill="#fff" stroke="#f0f" stroke-width="0.8" stroke-linejoin="round"/><path d="M376.16,119.11 L378.41,123.02 L373.91,123.02Z" fill="#fff" stroke="#f0f" stroke-width="0.8" stroke-linejoin="round"/><path d="M379.62,118.86 L381.88,122.77 L377.37,122.77Z" fill="#fff" stroke="#f0f" stroke-width="0.8" stroke-linejoin="round"/><path d="M383.09,118.58 L385.34,122.49 L380.84,122.49Z" fill="#fff" stroke="#f0f" stroke-width="0.8" stroke-linejoin="round"/><path d="M386.56,118.26 L388.81,122.17 L384.3,122.17Z" fill="#fff" stroke="#f0f" stroke-width="0.8" stroke-linejoin="round"/><path d="M390.02,117.91 L392.27,121.82 L387.77,121.82Z" fill="#fff" stroke="#f0f" stroke-width="0.8" stroke-linejoin="round"/><path d="M393.49,117.56 L395.74,121.47 L391.23,121.47Z" fill="#fff" stroke="#f0f" stroke-width="0.8" stroke-linejoin="round"/><path d="M396.95,117.21 L399.2,121.12 L394.7,121.12Z" fill="#fff" stroke="#f0f" stroke-width="0.8" stroke-linejoin="round"/><path d="M400.42,116.86 L402.67,120.77 L398.16,120.77Z" fill="#fff" stroke="#f0f" stroke-width="0.8" stroke-linejoin="round"/><path d="M403.88,116.52 L406.13,120.43 L401.63,120.43Z" fill="#fff" stroke="#f0f" stroke-width="0.8" stroke-linejoin="round"/><path d="M407.35,116.17 L409.6,120.08 L405.09,120.08Z" fill="#fff" stroke="#f0f" stroke-width="0.8" stroke-linejoin="round"/><path d="M410.81,115.81 L413.06,119.72 L408.56,119.72Z" fill="#fff" stroke="#f0f" stroke-width="0.8" stroke-linejoin="round"/><path d="M414.27,115.43 L416.53,119.34 L412.02,119.34Z" fill="#fff" stroke="#f0f" stroke-width="0.8" stroke-linejoin="round"/><path d="M417.74,115.03 L419.99,118.94 L415.49,118.94Z" fill="#fff" stroke="#f0f" stroke-width="0.8" stroke-linejoin="round"/><path d="M421.2,114.62 L423.46,118.53 L418.95,118.53Z" fill="#fff" stroke="#f0f" stroke-width="0.8" stroke-linejoin="round"/><path d="M424.67,114.18 L426.92,118.09 L422.42,118.09Z" fill="#fff" stroke="#f0f" stroke-width="0.8" stroke-linejoin="round"/><path d="M428.13,113.73 L430.39,117.64 L425.88,117.64Z" fill="#fff" stroke="#f0f" stroke-width="0.8" stroke-linejoin="round"/><path d="M431.6,113.27 L433.85,117.18 L429.35,117.18Z" fill="#fff" stroke="#f0f" stroke-width="0.8" stroke-linejoin="round"/><line x1="362.4" y1="13.5" x2="362.4" y2="152.5" stroke="#000" stroke-opacity="0.4" stroke-width="1"/><line x1="275.5" y1="122.5" x2="449" y2="122.5" stroke="#000" stroke-opacity="0.4" stroke-width="1"/><rect x="275.5" y="13.5" width="173.5" height="139" fill="none" stroke="#000" stroke-width="1.0"/><line x1="272.5" y1="27.74" x2="275.5" y2="27.74" stroke="#000" stroke-width="1"/><text font-size="10.5" text-anchor="end" transform="translate(271.5 31.44) scale(1.05 1)">240</text><line x1="272.5" y1="59.26" x2="275.5" y2="59.26" stroke="#000" stroke-width="1"/><g transform="translate(271.5 62.96) scale(1.0500 1)"><text x="-17.52" y="0" font-size="10.5"><tspan style="fill:none;stroke:none">1</tspan>60</text><path d="M478,0L478,1170L140,959L140,1180L493,1409L759,1409L759,0Z" transform="translate(-17.519 0) scale(0.005127 -0.005127)" fill="#000" stroke="#000" stroke-width="0.3" vector-effect="non-scaling-stroke"/></g><line x1="272.5" y1="90.78" x2="275.5" y2="90.78" stroke="#000" stroke-width="1"/><text font-size="10.5" text-anchor="end" transform="translate(271.5 94.48) scale(1.05 1)">80</text><line x1="272.5" y1="122.3" x2="275.5" y2="122.3" stroke="#000" stroke-width="1"/><text font-size="10.5" text-anchor="end" transform="translate(271.5 126) scale(1.05 1)">0</text><line x1="293" y1="152.5" x2="293" y2="155.5" stroke="#000" stroke-width="1"/><text font-size="10.5" text-anchor="middle" transform="translate(293 166.4) scale(1.05 1)">-2</text><line x1="327.65" y1="152.5" x2="327.65" y2="155.5" stroke="#000" stroke-width="1"/><g transform="translate(327.65 166.4) scale(1.0500 1)"><text x="-4.67" y="0" font-size="10.5">-<tspan style="fill:none;stroke:none">1</tspan></text><path d="M478,0L478,1170L140,959L140,1180L493,1409L759,1409L759,0Z" transform="translate(-1.172 0) scale(0.005127 -0.005127)" fill="#000" stroke="#000" stroke-width="0.3" vector-effect="non-scaling-stroke"/></g><line x1="362.3" y1="152.5" x2="362.3" y2="155.5" stroke="#000" stroke-width="1"/><text font-size="10.5" text-anchor="middle" transform="translate(362.3 166.4) scale(1.05 1)">0</text><line x1="396.95" y1="152.5" x2="396.95" y2="155.5" stroke="#000" stroke-width="1"/><g transform="translate(396.95 166.4) scale(1.0500 1)"><text x="-2.92" y="0" font-size="10.5"><tspan style="fill:none;stroke:none">1</tspan></text><path d="M478,0L478,1170L140,959L140,1180L493,1409L759,1409L759,0Z" transform="translate(-2.920 0) scale(0.005127 -0.005127)" fill="#000" stroke="#000" stroke-width="0.3" vector-effect="non-scaling-stroke"/></g><line x1="431.6" y1="152.5" x2="431.6" y2="155.5" stroke="#000" stroke-width="1"/><text font-size="10.5" text-anchor="middle" transform="translate(431.6 166.4) scale(1.05 1)">2</text><path d="M288.5,26.45 L291.34,31.39 L285.66,31.39Z" fill="#fff" stroke="#f0f" stroke-width="1.0" stroke-linejoin="round"/><path d="M288.5,40.23 L291.73,45.85 L285.27,45.85Z" fill="#f0f"/><g transform="translate(296.4 31.8) scale(1.0747 1)"><text x="0" y="0" font-size="10.2">MC (UV <tspan style="fill:none;stroke:none">1</tspan> min)</text><path d="M478,0L478,1170L140,959L140,1180L493,1409L759,1409L759,0Z" transform="translate(39.097 0) scale(0.004980 -0.004980)" fill="#000" stroke="#000" stroke-width="0.3" vector-effect="non-scaling-stroke"/></g><text transform="translate(296.4 45.6) scale(1.07 1)" font-size="10.2">SO<tspan font-size="7" dy="3.1">2</tspan></text><line x1="435.3" y1="114.6" x2="435.3" y2="105.4" stroke="#000" stroke-width="1.8" stroke-dasharray="4 2.5"/><path d="M431.1,112.4 L435.3,105.2 L439.5,112.4" fill="none" stroke="#000" stroke-width="1.8" stroke-linejoin="miter"/><text x="247.4" y="127.4" font-size="16" textLength="88.3" lengthAdjust="spacingAndGlyphs" transform="rotate(-90 247.4 127.4)">Current(μA)</text><text x="362.2" y="185.2" font-size="15.5" text-anchor="middle" textLength="77.4" lengthAdjust="spacingAndGlyphs">Voltage(V)</text><text x="473.6" y="14.8" font-size="19.5">c</text><path d="M528.3,128.09 L530.96,130.02 L529.95,133.15 L526.65,133.15 L525.64,130.02Z" fill="#0ff"/><path d="M531.76,127.6 L534.42,129.53 L533.41,132.66 L530.11,132.66 L529.1,129.53Z" fill="#0ff"/><path d="M535.22,127.11 L537.88,129.05 L536.87,132.18 L533.57,132.18 L532.56,129.05Z" fill="#0ff"/><path d="M538.68,126.64 L541.34,128.57 L540.33,131.71 L537.03,131.71 L536.02,128.57Z" fill="#0ff"/><path d="M542.14,126.17 L544.8,128.11 L543.79,131.24 L540.49,131.24 L539.48,128.11Z" fill="#0ff"/><path d="M545.6,125.71 L548.26,127.65 L547.25,130.78 L543.95,130.78 L542.94,127.65Z" fill="#0ff"/><path d="M549.06,125.26 L551.72,127.2 L550.71,130.33 L547.41,130.33 L546.4,127.2Z" fill="#0ff"/><path d="M552.52,124.82 L555.18,126.76 L554.17,129.89 L550.87,129.89 L549.86,126.76Z" fill="#0ff"/><path d="M555.98,124.39 L558.64,126.32 L557.63,129.45 L554.33,129.45 L553.32,126.32Z" fill="#0ff"/><path d="M559.44,123.96 L562.1,125.9 L561.09,129.03 L557.79,129.03 L556.78,125.9Z" fill="#0ff"/><path d="M562.9,123.55 L565.56,125.48 L564.55,128.61 L561.25,128.61 L560.24,125.48Z" fill="#0ff"/><path d="M566.36,123.17 L569.02,125.1 L568.01,128.23 L564.71,128.23 L563.7,125.1Z" fill="#0ff"/><path d="M569.82,122.84 L572.48,124.78 L571.47,127.91 L568.17,127.91 L567.16,124.78Z" fill="#0ff"/><path d="M573.28,122.55 L575.94,124.48 L574.93,127.61 L571.63,127.61 L570.62,124.48Z" fill="#0ff"/><path d="M576.74,122.26 L579.4,124.2 L578.39,127.33 L575.09,127.33 L574.08,124.2Z" fill="#0ff"/><path d="M580.2,121.97 L582.86,123.91 L581.85,127.04 L578.55,127.04 L577.54,123.91Z" fill="#0ff"/><path d="M583.66,121.66 L586.32,123.6 L585.31,126.73 L582.01,126.73 L581,123.6Z" fill="#0ff"/><path d="M587.12,121.31 L589.78,123.24 L588.77,126.37 L585.47,126.37 L584.46,123.24Z" fill="#0ff"/><path d="M590.58,120.89 L593.24,122.83 L592.23,125.96 L588.93,125.96 L587.92,122.83Z" fill="#0ff"/><path d="M594.04,120.39 L596.7,122.33 L595.69,125.46 L592.39,125.46 L591.38,122.33Z" fill="#0ff"/><path d="M597.5,119.8 L600.16,121.73 L599.15,124.87 L595.85,124.87 L594.84,121.73Z" fill="#0ff"/><path d="M600.96,118.86 L603.62,120.79 L602.61,123.92 L599.31,123.92 L598.3,120.79Z" fill="#0ff"/><path d="M604.42,117.43 L607.08,119.37 L606.07,122.5 L602.77,122.5 L601.76,119.37Z" fill="#0ff"/><path d="M607.88,115.69 L610.54,117.62 L609.53,120.75 L606.23,120.75 L605.22,117.62Z" fill="#0ff"/><path d="M611.34,113.79 L614,115.73 L612.99,118.86 L609.69,118.86 L608.68,115.73Z" fill="#0ff"/><path d="M614.8,111.91 L617.46,113.84 L616.45,116.97 L613.15,116.97 L612.14,113.84Z" fill="#0ff"/><path d="M618.26,110 L620.92,111.94 L619.91,115.07 L616.61,115.07 L615.6,111.94Z" fill="#0ff"/><path d="M621.72,107.95 L624.38,109.88 L623.37,113.01 L620.07,113.01 L619.06,109.88Z" fill="#0ff"/><path d="M625.18,105.76 L627.84,107.69 L626.83,110.83 L623.53,110.83 L622.52,107.69Z" fill="#0ff"/><path d="M628.64,103.46 L631.3,105.39 L630.29,108.52 L626.99,108.52 L625.98,105.39Z" fill="#0ff"/><path d="M632.1,101.06 L634.76,102.99 L633.75,106.12 L630.45,106.12 L629.44,102.99Z" fill="#0ff"/><path d="M635.56,98.51 L638.22,100.44 L637.21,103.57 L633.91,103.57 L632.9,100.44Z" fill="#0ff"/><path d="M639.02,95.79 L641.68,97.72 L640.67,100.85 L637.37,100.85 L636.36,97.72Z" fill="#0ff"/><path d="M642.48,92.94 L645.14,94.88 L644.13,98.01 L640.83,98.01 L639.82,94.88Z" fill="#0ff"/><path d="M645.94,90.01 L648.6,91.95 L647.59,95.08 L644.29,95.08 L643.28,91.95Z" fill="#0ff"/><path d="M649.4,87.05 L652.06,88.98 L651.05,92.11 L647.75,92.11 L646.74,88.98Z" fill="#0ff"/><path d="M652.86,84.04 L655.52,85.97 L654.51,89.11 L651.21,89.11 L650.2,85.97Z" fill="#0ff"/><path d="M656.32,80.96 L658.98,82.89 L657.97,86.02 L654.67,86.02 L653.66,82.89Z" fill="#0ff"/><path d="M659.78,77.8 L662.44,79.73 L661.43,82.86 L658.13,82.86 L657.12,79.73Z" fill="#0ff"/><path d="M663.24,74.56 L665.9,76.5 L664.89,79.63 L661.59,79.63 L660.58,76.5Z" fill="#0ff"/><path d="M666.7,71.26 L669.36,73.2 L668.35,76.33 L665.05,76.33 L664.04,73.2Z" fill="#0ff"/><path d="M528.3,123.36 L530.58,125.02 L529.71,127.7 L526.89,127.7 L526.02,125.02Z" fill="#fff" stroke="#0ff" stroke-width="0.9"/><path d="M531.76,123.17 L534.04,124.83 L533.17,127.51 L530.35,127.51 L529.48,124.83Z" fill="#fff" stroke="#0ff" stroke-width="0.9"/><path d="M535.22,122.98 L537.5,124.64 L536.63,127.33 L533.81,127.33 L532.94,124.64Z" fill="#fff" stroke="#0ff" stroke-width="0.9"/><path d="M538.68,122.8 L540.96,124.46 L540.09,127.14 L537.27,127.14 L536.4,124.46Z" fill="#fff" stroke="#0ff" stroke-width="0.9"/><path d="M542.14,122.62 L544.42,124.28 L543.55,126.96 L540.73,126.96 L539.86,124.28Z" fill="#fff" stroke="#0ff" stroke-width="0.9"/><path d="M545.6,122.45 L547.88,124.11 L547.01,126.79 L544.19,126.79 L543.32,124.11Z" fill="#fff" stroke="#0ff" stroke-width="0.9"/><path d="M549.06,122.27 L551.34,123.93 L550.47,126.62 L547.65,126.62 L546.78,123.93Z" fill="#fff" stroke="#0ff" stroke-width="0.9"/><path d="M552.52,122.11 L554.8,123.76 L553.93,126.45 L551.11,126.45 L550.24,123.76Z" fill="#fff" stroke="#0ff" stroke-width="0.9"/><path d="M555.98,121.94 L558.26,123.6 L557.39,126.28 L554.57,126.28 L553.7,123.6Z" fill="#fff" stroke="#0ff" stroke-width="0.9"/><path d="M559.44,121.78 L561.72,123.44 L560.85,126.12 L558.03,126.12 L557.16,123.44Z" fill="#fff" stroke="#0ff" stroke-width="0.9"/><path d="M562.9,121.62 L565.18,123.28 L564.31,125.96 L561.49,125.96 L560.62,123.28Z" fill="#fff" stroke="#0ff" stroke-width="0.9"/><path d="M566.36,121.47 L568.64,123.13 L567.77,125.81 L564.95,125.81 L564.08,123.13Z" fill="#fff" stroke="#0ff" stroke-width="0.9"/><path d="M569.82,121.33 L572.1,122.99 L571.23,125.67 L568.41,125.67 L567.54,122.99Z" fill="#fff" stroke="#0ff" stroke-width="0.9"/><path d="M573.28,121.2 L575.56,122.85 L574.69,125.54 L571.87,125.54 L571,122.85Z" fill="#fff" stroke="#0ff" stroke-width="0.9"/><path d="M576.74,121.07 L579.02,122.72 L578.15,125.41 L575.33,125.41 L574.46,122.72Z" fill="#fff" stroke="#0ff" stroke-width="0.9"/><path d="M580.2,120.94 L582.48,122.59 L581.61,125.28 L578.79,125.28 L577.92,122.59Z" fill="#fff" stroke="#0ff" stroke-width="0.9"/><path d="M583.66,120.81 L585.94,122.46 L585.07,125.15 L582.25,125.15 L581.38,122.46Z" fill="#fff" stroke="#0ff" stroke-width="0.9"/><path d="M587.12,120.67 L589.4,122.33 L588.53,125.01 L585.71,125.01 L584.84,122.33Z" fill="#fff" stroke="#0ff" stroke-width="0.9"/><path d="M590.58,120.52 L592.86,122.18 L591.99,124.87 L589.17,124.87 L588.3,122.18Z" fill="#fff" stroke="#0ff" stroke-width="0.9"/><path d="M594.04,120.37 L596.32,122.03 L595.45,124.71 L592.63,124.71 L591.76,122.03Z" fill="#fff" stroke="#0ff" stroke-width="0.9"/><path d="M597.5,120.2 L599.78,121.86 L598.91,124.54 L596.09,124.54 L595.22,121.86Z" fill="#fff" stroke="#0ff" stroke-width="0.9"/><path d="M600.96,120.02 L603.24,121.68 L602.37,124.36 L599.55,124.36 L598.68,121.68Z" fill="#fff" stroke="#0ff" stroke-width="0.9"/><path d="M604.42,119.83 L606.7,121.48 L605.83,124.17 L603.01,124.17 L602.14,121.48Z" fill="#fff" stroke="#0ff" stroke-width="0.9"/><path d="M607.88,119.61 L610.16,121.27 L609.29,123.95 L606.47,123.95 L605.6,121.27Z" fill="#fff" stroke="#0ff" stroke-width="0.9"/><path d="M611.34,119.37 L613.62,121.03 L612.75,123.71 L609.93,123.71 L609.06,121.03Z" fill="#fff" stroke="#0ff" stroke-width="0.9"/><path d="M614.8,119.1 L617.08,120.75 L616.21,123.44 L613.39,123.44 L612.52,120.75Z" fill="#fff" stroke="#0ff" stroke-width="0.9"/><path d="M618.26,118.76 L620.54,120.42 L619.67,123.1 L616.85,123.1 L615.98,120.42Z" fill="#fff" stroke="#0ff" stroke-width="0.9"/><path d="M621.72,118.35 L624,120 L623.13,122.69 L620.31,122.69 L619.44,120Z" fill="#fff" stroke="#0ff" stroke-width="0.9"/><path d="M625.18,117.88 L627.46,119.54 L626.59,122.22 L623.77,122.22 L622.9,119.54Z" fill="#fff" stroke="#0ff" stroke-width="0.9"/><path d="M628.64,117.37 L630.92,119.03 L630.05,121.72 L627.23,121.72 L626.36,119.03Z" fill="#fff" stroke="#0ff" stroke-width="0.9"/><path d="M632.1,116.85 L634.38,118.5 L633.51,121.19 L630.69,121.19 L629.82,118.5Z" fill="#fff" stroke="#0ff" stroke-width="0.9"/><path d="M635.56,116.29 L637.84,117.95 L636.97,120.63 L634.15,120.63 L633.28,117.95Z" fill="#fff" stroke="#0ff" stroke-width="0.9"/><path d="M639.02,115.68 L641.3,117.34 L640.43,120.02 L637.61,120.02 L636.74,117.34Z" fill="#fff" stroke="#0ff" stroke-width="0.9"/><path d="M642.48,115.03 L644.76,116.68 L643.89,119.37 L641.07,119.37 L640.2,116.68Z" fill="#fff" stroke="#0ff" stroke-width="0.9"/><path d="M645.94,114.32 L648.22,115.98 L647.35,118.66 L644.53,118.66 L643.66,115.98Z" fill="#fff" stroke="#0ff" stroke-width="0.9"/><path d="M649.4,113.57 L651.68,115.23 L650.81,117.91 L647.99,117.91 L647.12,115.23Z" fill="#fff" stroke="#0ff" stroke-width="0.9"/><path d="M652.86,112.76 L655.14,114.42 L654.27,117.1 L651.45,117.1 L650.58,114.42Z" fill="#fff" stroke="#0ff" stroke-width="0.9"/><path d="M656.32,111.87 L658.6,113.53 L657.73,116.21 L654.91,116.21 L654.04,113.53Z" fill="#fff" stroke="#0ff" stroke-width="0.9"/><path d="M659.78,110.92 L662.06,112.58 L661.19,115.26 L658.37,115.26 L657.5,112.58Z" fill="#fff" stroke="#0ff" stroke-width="0.9"/><path d="M663.24,109.9 L665.52,111.56 L664.65,114.25 L661.83,114.25 L660.96,111.56Z" fill="#fff" stroke="#0ff" stroke-width="0.9"/><path d="M666.7,108.84 L668.98,110.49 L668.11,113.18 L665.29,113.18 L664.42,110.49Z" fill="#fff" stroke="#0ff" stroke-width="0.9"/><line x1="598.1" y1="13.5" x2="598.1" y2="152.5" stroke="#000" stroke-opacity="0.21" stroke-width="2.0"/><line x1="511" y1="122.6" x2="684.5" y2="122.6" stroke="#000" stroke-opacity="0.21" stroke-width="2.0"/><rect x="511" y="13.5" width="173.5" height="139" fill="none" stroke="#000" stroke-width="1.0"/><line x1="508.5" y1="27.9" x2="511" y2="27.9" stroke="#000" stroke-width="1"/><text font-size="10.5" text-anchor="end" transform="translate(507.3 31.1) scale(1.14 1)">240</text><line x1="508.5" y1="59.46" x2="511" y2="59.46" stroke="#000" stroke-width="1"/><g transform="translate(507.3 62.66) scale(1.1400 1)"><text x="-17.52" y="0" font-size="10.5"><tspan style="fill:none;stroke:none">1</tspan>60</text><path d="M478,0L478,1170L140,959L140,1180L493,1409L759,1409L759,0Z" transform="translate(-17.519 0) scale(0.005127 -0.005127)" fill="#000" stroke="#000" stroke-width="0.3" vector-effect="non-scaling-stroke"/></g><line x1="508.5" y1="91.03" x2="511" y2="91.03" stroke="#000" stroke-width="1"/><text font-size="10.5" text-anchor="end" transform="translate(507.3 94.23) scale(1.14 1)">80</text><line x1="508.5" y1="122.6" x2="511" y2="122.6" stroke="#000" stroke-width="1"/><text font-size="10.5" text-anchor="end" transform="translate(507.3 125.8) scale(1.14 1)">0</text><line x1="528.3" y1="152.5" x2="528.3" y2="155.5" stroke="#000" stroke-width="1"/><text font-size="10.5" text-anchor="middle" transform="translate(528.3 166.3) scale(1.14 1)">-2</text><line x1="562.9" y1="152.5" x2="562.9" y2="155.5" stroke="#000" stroke-width="1"/><g transform="translate(562.9 166.3) scale(1.1400 1)"><text x="-4.67" y="0" font-size="10.5">-<tspan style="fill:none;stroke:none">1</tspan></text><path d="M478,0L478,1170L140,959L140,1180L493,1409L759,1409L759,0Z" transform="translate(-1.172 0) scale(0.005127 -0.005127)" fill="#000" stroke="#000" stroke-width="0.3" vector-effect="non-scaling-stroke"/></g><line x1="597.5" y1="152.5" x2="597.5" y2="155.5" stroke="#000" stroke-width="1"/><text font-size="10.5" text-anchor="middle" transform="translate(597.5 166.3) scale(1.14 1)">0</text><line x1="632.1" y1="152.5" x2="632.1" y2="155.5" stroke="#000" stroke-width="1"/><g transform="translate(632.1 166.3) scale(1.1400 1)"><text x="-2.92" y="0" font-size="10.5"><tspan style="fill:none;stroke:none">1</tspan></text><path d="M478,0L478,1170L140,959L140,1180L493,1409L759,1409L759,0Z" transform="translate(-2.920 0) scale(0.005127 -0.005127)" fill="#000" stroke="#000" stroke-width="0.3" vector-effect="non-scaling-stroke"/></g><line x1="666.7" y1="152.5" x2="666.7" y2="155.5" stroke="#000" stroke-width="1"/><text font-size="10.5" text-anchor="middle" transform="translate(666.7 166.3) scale(1.14 1)">2</text><path d="M521.6,27.9 L524.07,29.7 L523.13,32.6 L520.07,32.6 L519.13,29.7Z" fill="#fff" stroke="#0ff" stroke-width="0.9"/><path d="M521.6,41.7 L524.45,43.77 L523.36,47.13 L519.84,47.13 L518.75,43.77Z" fill="#0ff"/><text x="529.6" y="32.8" font-size="10.2" textLength="76.2" lengthAdjust="spacingAndGlyphs">MC (UV 5 min)</text><text transform="translate(529.6 46.6) scale(1.07 1)" font-size="10.2">SO<tspan font-size="7" dy="3.1">2</tspan></text><line x1="667.9" y1="105.7" x2="667.9" y2="78.6" stroke="#000" stroke-width="1.8" stroke-dasharray="4 2.5"/><path d="M663.7,85.6 L667.9,78.4 L672.1,85.6" fill="none" stroke="#000" stroke-width="1.8" stroke-linejoin="miter"/><text x="481.8" y="126.7" font-size="16" textLength="87.6" lengthAdjust="spacingAndGlyphs" transform="rotate(-90 481.8 126.7)">Current(μA)</text><text x="597.7" y="184.4" font-size="15.5" text-anchor="middle" textLength="77.4" lengthAdjust="spacingAndGlyphs">Voltage(V)</text><text x="0" y="216.1" font-size="19.5">d</text><path d="M57.4,332.35 L58.22,334.52 L60.54,334.63 L58.73,336.09 L59.34,338.32 L57.4,337.05 L55.46,338.32 L56.07,336.09 L54.26,334.63 L56.58,334.52Z" fill="#7f00ff"/><path d="M60.86,331.54 L61.68,333.71 L64,333.82 L62.19,335.27 L62.8,337.51 L60.86,336.24 L58.92,337.51 L59.53,335.27 L57.72,333.82 L60.04,333.71Z" fill="#7f00ff"/><path d="M64.32,330.74 L65.14,332.91 L67.46,333.02 L65.65,334.47 L66.26,336.71 L64.32,335.44 L62.38,336.71 L62.99,334.47 L61.18,333.02 L63.5,332.91Z" fill="#7f00ff"/><path d="M67.78,329.95 L68.6,332.12 L70.92,332.23 L69.11,333.68 L69.72,335.92 L67.78,334.65 L65.84,335.92 L66.45,333.68 L64.64,332.23 L66.96,332.12Z" fill="#7f00ff"/><path d="M71.24,329.17 L72.06,331.33 L74.38,331.45 L72.57,332.9 L73.18,335.14 L71.24,333.87 L69.3,335.14 L69.91,332.9 L68.1,331.45 L70.42,331.33Z" fill="#7f00ff"/><path d="M74.7,328.39 L75.52,330.56 L77.84,330.68 L76.03,332.13 L76.64,334.36 L74.7,333.09 L72.76,334.36 L73.37,332.13 L71.56,330.68 L73.88,330.56Z" fill="#7f00ff"/><path d="M78.16,327.63 L78.98,329.8 L81.3,329.91 L79.49,331.36 L80.1,333.6 L78.16,332.33 L76.22,333.6 L76.83,331.36 L75.02,329.91 L77.34,329.8Z" fill="#7f00ff"/><path d="M81.62,326.87 L82.44,329.04 L84.76,329.15 L82.95,330.61 L83.56,332.84 L81.62,331.57 L79.68,332.84 L80.29,330.61 L78.48,329.15 L80.8,329.04Z" fill="#7f00ff"/><path d="M85.08,326.13 L85.9,328.3 L88.22,328.41 L86.41,329.86 L87.02,332.1 L85.08,330.83 L83.14,332.1 L83.75,329.86 L81.94,328.41 L84.26,328.3Z" fill="#7f00ff"/><path d="M88.54,325.39 L89.36,327.56 L91.68,327.67 L89.87,329.13 L90.48,331.36 L88.54,330.09 L86.6,331.36 L87.21,329.13 L85.4,327.67 L87.72,327.56Z" fill="#7f00ff"/><path d="M92,324.67 L92.82,326.84 L95.14,326.95 L93.33,328.41 L93.94,330.64 L92,329.37 L90.06,330.64 L90.67,328.41 L88.86,326.95 L91.18,326.84Z" fill="#7f00ff"/><path d="M95.46,323.96 L96.28,326.13 L98.6,326.24 L96.79,327.7 L97.4,329.93 L95.46,328.66 L93.52,329.93 L94.13,327.7 L92.32,326.24 L94.64,326.13Z" fill="#7f00ff"/><path d="M98.92,323.26 L99.74,325.43 L102.06,325.54 L100.25,326.99 L100.86,329.23 L98.92,327.96 L96.98,329.23 L97.59,326.99 L95.78,325.54 L98.1,325.43Z" fill="#7f00ff"/><path d="M102.38,322.57 L103.2,324.73 L105.52,324.85 L103.71,326.3 L104.32,328.54 L102.38,327.27 L100.44,328.54 L101.05,326.3 L99.24,324.85 L101.56,324.73Z" fill="#7f00ff"/><path d="M105.84,321.9 L106.66,324.07 L108.98,324.18 L107.17,325.63 L107.78,327.87 L105.84,326.6 L103.9,327.87 L104.51,325.63 L102.7,324.18 L105.02,324.07Z" fill="#7f00ff"/><path d="M109.3,321.27 L110.12,323.44 L112.44,323.55 L110.63,325 L111.24,327.24 L109.3,325.97 L107.36,327.24 L107.97,325 L106.16,323.55 L108.48,323.44Z" fill="#7f00ff"/><path d="M112.76,320.73 L113.58,322.89 L115.9,323.01 L114.09,324.46 L114.7,326.7 L112.76,325.43 L110.82,326.7 L111.43,324.46 L109.62,323.01 L111.94,322.89Z" fill="#7f00ff"/><path d="M116.22,320.26 L117.04,322.43 L119.36,322.54 L117.55,323.99 L118.16,326.23 L116.22,324.96 L114.28,326.23 L114.89,323.99 L113.08,322.54 L115.4,322.43Z" fill="#7f00ff"/><path d="M119.68,319.79 L120.5,321.96 L122.82,322.07 L121.01,323.52 L121.62,325.76 L119.68,324.49 L117.74,325.76 L118.35,323.52 L116.54,322.07 L118.86,321.96Z" fill="#7f00ff"/><path d="M123.14,319.23 L123.96,321.4 L126.28,321.51 L124.47,322.96 L125.08,325.2 L123.14,323.93 L121.2,325.2 L121.81,322.96 L120,321.51 L122.32,321.4Z" fill="#7f00ff"/><path d="M126.6,318.5 L127.42,320.67 L129.74,320.78 L127.93,322.23 L128.54,324.47 L126.6,323.2 L124.66,324.47 L125.27,322.23 L123.46,320.78 L125.78,320.67Z" fill="#7f00ff"/><path d="M130.06,317.33 L130.88,319.5 L133.2,319.61 L131.39,321.07 L132,323.3 L130.06,322.03 L128.12,323.3 L128.73,321.07 L126.92,319.61 L129.24,319.5Z" fill="#7f00ff"/><path d="M133.52,315.73 L134.34,317.9 L136.66,318.01 L134.85,319.46 L135.46,321.7 L133.52,320.43 L131.58,321.7 L132.19,319.46 L130.38,318.01 L132.7,317.9Z" fill="#7f00ff"/><path d="M136.98,313.65 L137.8,315.82 L140.12,315.93 L138.31,317.39 L138.92,319.62 L136.98,318.35 L135.04,319.62 L135.65,317.39 L133.84,315.93 L136.16,315.82Z" fill="#7f00ff"/><path d="M140.44,311.22 L141.26,313.38 L143.58,313.5 L141.77,314.95 L142.38,317.19 L140.44,315.92 L138.5,317.19 L139.11,314.95 L137.3,313.5 L139.62,313.38Z" fill="#7f00ff"/><path d="M143.9,308.61 L144.72,310.77 L147.04,310.89 L145.23,312.34 L145.84,314.57 L143.9,313.31 L141.96,314.57 L142.57,312.34 L140.76,310.89 L143.08,310.77Z" fill="#7f00ff"/><path d="M147.36,305.44 L148.18,307.61 L150.5,307.72 L148.69,309.17 L149.3,311.41 L147.36,310.14 L145.42,311.41 L146.03,309.17 L144.22,307.72 L146.54,307.61Z" fill="#7f00ff"/><path d="M150.82,302.27 L151.64,304.44 L153.96,304.55 L152.15,306 L152.76,308.24 L150.82,306.97 L148.88,308.24 L149.49,306 L147.68,304.55 L150,304.44Z" fill="#7f00ff"/><path d="M154.28,298.31 L155.1,300.48 L157.42,300.59 L155.61,302.05 L156.22,304.28 L154.28,303.01 L152.34,304.28 L152.95,302.05 L151.14,300.59 L153.46,300.48Z" fill="#7f00ff"/><path d="M157.74,293.96 L158.56,296.13 L160.88,296.24 L159.07,297.69 L159.68,299.93 L157.74,298.66 L155.8,299.93 L156.41,297.69 L154.6,296.24 L156.92,296.13Z" fill="#7f00ff"/><path d="M161.2,289.21 L162.02,291.38 L164.34,291.49 L162.53,292.94 L163.14,295.18 L161.2,293.91 L159.26,295.18 L159.87,292.94 L158.06,291.49 L160.38,291.38Z" fill="#7f00ff"/><path d="M164.66,284.46 L165.48,286.63 L167.8,286.74 L165.99,288.19 L166.6,290.43 L164.66,289.16 L162.72,290.43 L163.33,288.19 L161.52,286.74 L163.84,286.63Z" fill="#7f00ff"/><path d="M168.12,279.32 L168.94,281.48 L171.26,281.6 L169.45,283.05 L170.06,285.29 L168.12,284.02 L166.18,285.29 L166.79,283.05 L164.98,281.6 L167.3,281.48Z" fill="#7f00ff"/><path d="M171.58,273.77 L172.4,275.94 L174.72,276.05 L172.91,277.51 L173.52,279.74 L171.58,278.47 L169.64,279.74 L170.25,277.51 L168.44,276.05 L170.76,275.94Z" fill="#7f00ff"/><path d="M175.04,267.6 L175.86,269.77 L178.18,269.88 L176.37,271.33 L176.98,273.57 L175.04,272.3 L173.1,273.57 L173.71,271.33 L171.9,269.88 L174.22,269.77Z" fill="#7f00ff"/><path d="M178.5,260.71 L179.32,262.88 L181.64,262.99 L179.83,264.45 L180.44,266.68 L178.5,265.41 L176.56,266.68 L177.17,264.45 L175.36,262.99 L177.68,262.88Z" fill="#7f00ff"/><path d="M181.96,253.98 L182.78,256.15 L185.1,256.26 L183.29,257.72 L183.9,259.95 L181.96,258.68 L180.02,259.95 L180.63,257.72 L178.82,256.26 L181.14,256.15Z" fill="#7f00ff"/><path d="M185.42,247.65 L186.24,249.82 L188.56,249.93 L186.75,251.38 L187.36,253.62 L185.42,252.35 L183.48,253.62 L184.09,251.38 L182.28,249.93 L184.6,249.82Z" fill="#7f00ff"/><path d="M188.88,240.92 L189.7,243.09 L192.02,243.2 L190.21,244.66 L190.82,246.89 L188.88,245.62 L186.94,246.89 L187.55,244.66 L185.74,243.2 L188.06,243.09Z" fill="#7f00ff"/><path d="M192.34,231.42 L193.16,233.59 L195.48,233.7 L193.67,235.16 L194.28,237.39 L192.34,236.12 L190.4,237.39 L191.01,235.16 L189.2,233.7 L191.52,233.59Z" fill="#7f00ff"/><path d="M195.8,223.71 L196.62,225.87 L198.94,225.99 L197.13,227.44 L197.74,229.68 L195.8,228.41 L193.86,229.68 L194.47,227.44 L192.66,225.99 L194.98,225.87Z" fill="#7f00ff"/><path d="M57.4,322.87 L58.19,324.98 L60.44,325.09 L58.68,326.49 L59.28,328.66 L57.4,327.42 L55.52,328.66 L56.12,326.49 L54.36,325.09 L56.61,324.98Z" fill="#a868ff" stroke="#7f00ff" stroke-width="0.7" stroke-linejoin="round"/><path d="M60.86,322.73 L61.65,324.84 L63.9,324.94 L62.14,326.35 L62.74,328.52 L60.86,327.28 L58.98,328.52 L59.58,326.35 L57.82,324.94 L60.07,324.84Z" fill="#a868ff" stroke="#7f00ff" stroke-width="0.7" stroke-linejoin="round"/><path d="M64.32,322.57 L65.11,324.68 L67.36,324.78 L65.6,326.19 L66.2,328.36 L64.32,327.12 L62.44,328.36 L63.04,326.19 L61.28,324.78 L63.53,324.68Z" fill="#a868ff" stroke="#7f00ff" stroke-width="0.7" stroke-linejoin="round"/><path d="M67.78,322.41 L68.57,324.52 L70.82,324.62 L69.06,326.03 L69.66,328.2 L67.78,326.96 L65.9,328.2 L66.5,326.03 L64.74,324.62 L66.99,324.52Z" fill="#a868ff" stroke="#7f00ff" stroke-width="0.7" stroke-linejoin="round"/><path d="M71.24,322.24 L72.03,324.35 L74.28,324.45 L72.52,325.86 L73.12,328.03 L71.24,326.79 L69.36,328.03 L69.96,325.86 L68.2,324.45 L70.45,324.35Z" fill="#a868ff" stroke="#7f00ff" stroke-width="0.7" stroke-linejoin="round"/><path d="M74.7,322.07 L75.49,324.17 L77.74,324.28 L75.98,325.68 L76.58,327.85 L74.7,326.62 L72.82,327.85 L73.42,325.68 L71.66,324.28 L73.91,324.17Z" fill="#a868ff" stroke="#7f00ff" stroke-width="0.7" stroke-linejoin="round"/><path d="M78.16,321.88 L78.95,323.99 L81.2,324.09 L79.44,325.5 L80.04,327.67 L78.16,326.43 L76.28,327.67 L76.88,325.5 L75.12,324.09 L77.37,323.99Z" fill="#a868ff" stroke="#7f00ff" stroke-width="0.7" stroke-linejoin="round"/><path d="M81.62,321.69 L82.41,323.8 L84.66,323.91 L82.9,325.31 L83.5,327.48 L81.62,326.24 L79.74,327.48 L80.34,325.31 L78.58,323.91 L80.83,323.8Z" fill="#a868ff" stroke="#7f00ff" stroke-width="0.7" stroke-linejoin="round"/><path d="M85.08,321.5 L85.87,323.61 L88.12,323.71 L86.36,325.12 L86.96,327.29 L85.08,326.05 L83.2,327.29 L83.8,325.12 L82.04,323.71 L84.29,323.61Z" fill="#a868ff" stroke="#7f00ff" stroke-width="0.7" stroke-linejoin="round"/><path d="M88.54,321.3 L89.33,323.41 L91.58,323.51 L89.82,324.92 L90.42,327.09 L88.54,325.85 L86.66,327.09 L87.26,324.92 L85.5,323.51 L87.75,323.41Z" fill="#a868ff" stroke="#7f00ff" stroke-width="0.7" stroke-linejoin="round"/><path d="M92,321.09 L92.79,323.2 L95.04,323.3 L93.28,324.71 L93.88,326.88 L92,325.64 L90.12,326.88 L90.72,324.71 L88.96,323.3 L91.21,323.2Z" fill="#a868ff" stroke="#7f00ff" stroke-width="0.7" stroke-linejoin="round"/><path d="M95.46,320.87 L96.25,322.98 L98.5,323.08 L96.74,324.49 L97.34,326.66 L95.46,325.42 L93.58,326.66 L94.18,324.49 L92.42,323.08 L94.67,322.98Z" fill="#a868ff" stroke="#7f00ff" stroke-width="0.7" stroke-linejoin="round"/><path d="M98.92,320.62 L99.71,322.73 L101.96,322.83 L100.2,324.24 L100.8,326.41 L98.92,325.17 L97.04,326.41 L97.64,324.24 L95.88,322.83 L98.13,322.73Z" fill="#a868ff" stroke="#7f00ff" stroke-width="0.7" stroke-linejoin="round"/><path d="M102.38,320.35 L103.17,322.46 L105.42,322.56 L103.66,323.97 L104.26,326.14 L102.38,324.9 L100.5,326.14 L101.1,323.97 L99.34,322.56 L101.59,322.46Z" fill="#a868ff" stroke="#7f00ff" stroke-width="0.7" stroke-linejoin="round"/><path d="M105.84,320.07 L106.63,322.18 L108.88,322.28 L107.12,323.69 L107.72,325.86 L105.84,324.62 L103.96,325.86 L104.56,323.69 L102.8,322.28 L105.05,322.18Z" fill="#a868ff" stroke="#7f00ff" stroke-width="0.7" stroke-linejoin="round"/><path d="M109.3,319.79 L110.09,321.9 L112.34,322 L110.58,323.41 L111.18,325.58 L109.3,324.34 L107.42,325.58 L108.02,323.41 L106.26,322 L108.51,321.9Z" fill="#a868ff" stroke="#7f00ff" stroke-width="0.7" stroke-linejoin="round"/><path d="M112.76,319.51 L113.55,321.62 L115.8,321.72 L114.04,323.13 L114.64,325.3 L112.76,324.06 L110.88,325.3 L111.48,323.13 L109.72,321.72 L111.97,321.62Z" fill="#a868ff" stroke="#7f00ff" stroke-width="0.7" stroke-linejoin="round"/><path d="M116.22,319.25 L117.01,321.35 L119.26,321.46 L117.5,322.86 L118.1,325.04 L116.22,323.8 L114.34,325.04 L114.94,322.86 L113.18,321.46 L115.43,321.35Z" fill="#a868ff" stroke="#7f00ff" stroke-width="0.7" stroke-linejoin="round"/><path d="M119.68,319 L120.47,321.11 L122.72,321.21 L120.96,322.62 L121.56,324.79 L119.68,323.55 L117.8,324.79 L118.4,322.62 L116.64,321.21 L118.89,321.11Z" fill="#a868ff" stroke="#7f00ff" stroke-width="0.7" stroke-linejoin="round"/><path d="M123.14,318.78 L123.93,320.89 L126.18,320.99 L124.42,322.4 L125.02,324.57 L123.14,323.33 L121.26,324.57 L121.86,322.4 L120.1,320.99 L122.35,320.89Z" fill="#a868ff" stroke="#7f00ff" stroke-width="0.7" stroke-linejoin="round"/><path d="M126.6,318.6 L127.39,320.71 L129.64,320.81 L127.88,322.22 L128.48,324.39 L126.6,323.15 L124.72,324.39 L125.32,322.22 L123.56,320.81 L125.81,320.71Z" fill="#a868ff" stroke="#7f00ff" stroke-width="0.7" stroke-linejoin="round"/><path d="M130.06,318.47 L130.85,320.58 L133.1,320.68 L131.34,322.09 L131.94,324.26 L130.06,323.02 L128.18,324.26 L128.78,322.09 L127.02,320.68 L129.27,320.58Z" fill="#a868ff" stroke="#7f00ff" stroke-width="0.7" stroke-linejoin="round"/><path d="M133.52,318.38 L134.31,320.48 L136.56,320.59 L134.8,321.99 L135.4,324.16 L133.52,322.93 L131.64,324.16 L132.24,321.99 L130.48,320.59 L132.73,320.48Z" fill="#a868ff" stroke="#7f00ff" stroke-width="0.7" stroke-linejoin="round"/><path d="M136.98,318.26 L137.77,320.37 L140.02,320.47 L138.26,321.88 L138.86,324.05 L136.98,322.81 L135.1,324.05 L135.7,321.88 L133.94,320.47 L136.19,320.37Z" fill="#a868ff" stroke="#7f00ff" stroke-width="0.7" stroke-linejoin="round"/><path d="M140.44,318.09 L141.23,320.19 L143.48,320.3 L141.72,321.7 L142.32,323.87 L140.44,322.64 L138.56,323.87 L139.16,321.7 L137.4,320.3 L139.65,320.19Z" fill="#a868ff" stroke="#7f00ff" stroke-width="0.7" stroke-linejoin="round"/><path d="M143.9,317.58 L144.69,319.69 L146.94,319.79 L145.18,321.2 L145.78,323.37 L143.9,322.13 L142.02,323.37 L142.62,321.2 L140.86,319.79 L143.11,319.69Z" fill="#a868ff" stroke="#7f00ff" stroke-width="0.7" stroke-linejoin="round"/><path d="M147.36,316.9 L148.15,319.01 L150.4,319.11 L148.64,320.52 L149.24,322.69 L147.36,321.45 L145.48,322.69 L146.08,320.52 L144.32,319.11 L146.57,319.01Z" fill="#a868ff" stroke="#7f00ff" stroke-width="0.7" stroke-linejoin="round"/><path d="M150.82,316.32 L151.61,318.43 L153.86,318.53 L152.1,319.94 L152.7,322.11 L150.82,320.87 L148.94,322.11 L149.54,319.94 L147.78,318.53 L150.03,318.43Z" fill="#a868ff" stroke="#7f00ff" stroke-width="0.7" stroke-linejoin="round"/><path d="M154.28,315.71 L155.07,317.82 L157.32,317.92 L155.56,319.33 L156.16,321.5 L154.28,320.26 L152.4,321.5 L153,319.33 L151.24,317.92 L153.49,317.82Z" fill="#a868ff" stroke="#7f00ff" stroke-width="0.7" stroke-linejoin="round"/><path d="M157.74,315 L158.53,317.11 L160.78,317.22 L159.02,318.62 L159.62,320.79 L157.74,319.55 L155.86,320.79 L156.46,318.62 L154.7,317.22 L156.95,317.11Z" fill="#a868ff" stroke="#7f00ff" stroke-width="0.7" stroke-linejoin="round"/><path d="M161.2,314.25 L161.99,316.35 L164.24,316.46 L162.48,317.86 L163.08,320.04 L161.2,318.8 L159.32,320.04 L159.92,317.86 L158.16,316.46 L160.41,316.35Z" fill="#a868ff" stroke="#7f00ff" stroke-width="0.7" stroke-linejoin="round"/><path d="M164.66,313.48 L165.45,315.59 L167.7,315.7 L165.94,317.1 L166.54,319.27 L164.66,318.03 L162.78,319.27 L163.38,317.1 L161.62,315.7 L163.87,315.59Z" fill="#a868ff" stroke="#7f00ff" stroke-width="0.7" stroke-linejoin="round"/><path d="M168.12,312.66 L168.91,314.77 L171.16,314.87 L169.4,316.28 L170,318.45 L168.12,317.21 L166.24,318.45 L166.84,316.28 L165.08,314.87 L167.33,314.77Z" fill="#a868ff" stroke="#7f00ff" stroke-width="0.7" stroke-linejoin="round"/><path d="M171.58,311.7 L172.37,313.81 L174.62,313.91 L172.86,315.32 L173.46,317.49 L171.58,316.25 L169.7,317.49 L170.3,315.32 L168.54,313.91 L170.79,313.81Z" fill="#a868ff" stroke="#7f00ff" stroke-width="0.7" stroke-linejoin="round"/><path d="M175.04,310.68 L175.83,312.79 L178.08,312.9 L176.32,314.3 L176.92,316.47 L175.04,315.23 L173.16,316.47 L173.76,314.3 L172,312.9 L174.25,312.79Z" fill="#a868ff" stroke="#7f00ff" stroke-width="0.7" stroke-linejoin="round"/><path d="M178.5,309.69 L179.29,311.8 L181.54,311.91 L179.78,313.31 L180.38,315.48 L178.5,314.24 L176.62,315.48 L177.22,313.31 L175.46,311.91 L177.71,311.8Z" fill="#a868ff" stroke="#7f00ff" stroke-width="0.7" stroke-linejoin="round"/><path d="M181.96,308.71 L182.75,310.81 L185,310.92 L183.24,312.32 L183.84,314.49 L181.96,313.26 L180.08,314.49 L180.68,312.32 L178.92,310.92 L181.17,310.81Z" fill="#a868ff" stroke="#7f00ff" stroke-width="0.7" stroke-linejoin="round"/><path d="M185.42,307.73 L186.21,309.83 L188.46,309.94 L186.7,311.34 L187.3,313.51 L185.42,312.28 L183.54,313.51 L184.14,311.34 L182.38,309.94 L184.63,309.83Z" fill="#a868ff" stroke="#7f00ff" stroke-width="0.7" stroke-linejoin="round"/><path d="M188.88,306.73 L189.67,308.83 L191.92,308.94 L190.16,310.34 L190.76,312.51 L188.88,311.28 L187,312.51 L187.6,310.34 L185.84,308.94 L188.09,308.83Z" fill="#a868ff" stroke="#7f00ff" stroke-width="0.7" stroke-linejoin="round"/><path d="M192.34,305.68 L193.13,307.79 L195.38,307.89 L193.62,309.29 L194.22,311.47 L192.34,310.23 L190.46,311.47 L191.06,309.29 L189.3,307.89 L191.55,307.79Z" fill="#a868ff" stroke="#7f00ff" stroke-width="0.7" stroke-linejoin="round"/><path d="M195.8,304.59 L196.59,306.7 L198.84,306.8 L197.08,308.21 L197.68,310.38 L195.8,309.14 L193.92,310.38 L194.52,308.21 L192.76,306.8 L195.01,306.7Z" fill="#a868ff" stroke="#7f00ff" stroke-width="0.7" stroke-linejoin="round"/><line x1="126.6" y1="213" x2="126.6" y2="351.8" stroke="#000" stroke-opacity="0.4" stroke-width="1"/><line x1="40" y1="321.5" x2="213.5" y2="321.5" stroke="#000" stroke-opacity="0.4" stroke-width="1"/><rect x="40" y="213" width="173.5" height="138.8" fill="none" stroke="#000" stroke-width="1.0"/><line x1="37" y1="226.81" x2="40" y2="226.81" stroke="#000" stroke-width="1"/><text font-size="10.5" text-anchor="end" transform="translate(36.6 230.01) scale(1.15 1)">240</text><line x1="37" y1="258.47" x2="40" y2="258.47" stroke="#000" stroke-width="1"/><g transform="translate(36.6 261.67) scale(1.1500 1)"><text x="-17.52" y="0" font-size="10.5"><tspan style="fill:none;stroke:none">1</tspan>60</text><path d="M478,0L478,1170L140,959L140,1180L493,1409L759,1409L759,0Z" transform="translate(-17.519 0) scale(0.005127 -0.005127)" fill="#000" stroke="#000" stroke-width="0.3" vector-effect="non-scaling-stroke"/></g><line x1="37" y1="290.14" x2="40" y2="290.14" stroke="#000" stroke-width="1"/><text font-size="10.5" text-anchor="end" transform="translate(36.6 293.34) scale(1.15 1)">80</text><line x1="37" y1="321.8" x2="40" y2="321.8" stroke="#000" stroke-width="1"/><text font-size="10.5" text-anchor="end" transform="translate(36.6 325) scale(1.15 1)">0</text><line x1="57.4" y1="351.8" x2="57.4" y2="354.8" stroke="#000" stroke-width="1"/><text font-size="10.5" text-anchor="middle" transform="translate(57.4 365.9) scale(1.15 1)">-2</text><line x1="92" y1="351.8" x2="92" y2="354.8" stroke="#000" stroke-width="1"/><g transform="translate(92 365.9) scale(1.1500 1)"><text x="-4.67" y="0" font-size="10.5">-<tspan style="fill:none;stroke:none">1</tspan></text><path d="M478,0L478,1170L140,959L140,1180L493,1409L759,1409L759,0Z" transform="translate(-1.172 0) scale(0.005127 -0.005127)" fill="#000" stroke="#000" stroke-width="0.3" vector-effect="non-scaling-stroke"/></g><line x1="126.6" y1="351.8" x2="126.6" y2="354.8" stroke="#000" stroke-width="1"/><text font-size="10.5" text-anchor="middle" transform="translate(126.6 365.9) scale(1.15 1)">0</text><line x1="161.2" y1="351.8" x2="161.2" y2="354.8" stroke="#000" stroke-width="1"/><g transform="translate(161.2 365.9) scale(1.1500 1)"><text x="-2.92" y="0" font-size="10.5"><tspan style="fill:none;stroke:none">1</tspan></text><path d="M478,0L478,1170L140,959L140,1180L493,1409L759,1409L759,0Z" transform="translate(-2.920 0) scale(0.005127 -0.005127)" fill="#000" stroke="#000" stroke-width="0.3" vector-effect="non-scaling-stroke"/></g><line x1="195.8" y1="351.8" x2="195.8" y2="354.8" stroke="#000" stroke-width="1"/><text font-size="10.5" text-anchor="middle" transform="translate(195.8 365.9) scale(1.15 1)">2</text><path d="M52.7,226.4 L53.55,228.63 L55.93,228.75 L54.08,230.25 L54.7,232.55 L52.7,231.25 L50.7,232.55 L51.32,230.25 L49.47,228.75 L51.85,228.63Z" fill="#a868ff" stroke="#7f00ff" stroke-width="0.7" stroke-linejoin="round"/><path d="M52.7,240.3 L53.55,242.53 L55.93,242.65 L54.08,244.15 L54.7,246.45 L52.7,245.15 L50.7,246.45 L51.32,244.15 L49.47,242.65 L51.85,242.53Z" fill="#7f00ff"/><g transform="translate(60.5 232.1) scale(1.0988 1)"><text x="0" y="0" font-size="10.2">MC (UV <tspan style="fill:none;stroke:none">1</tspan>0 min)</text><path d="M478,0L478,1170L140,959L140,1180L493,1409L759,1409L759,0Z" transform="translate(39.097 0) scale(0.004980 -0.004980)" fill="#000" stroke="#000" stroke-width="0.3" vector-effect="non-scaling-stroke"/></g><text transform="translate(60.5 245.6) scale(1.07 1)" font-size="10.2">SO<tspan font-size="7" dy="3.1">2</tspan></text><line x1="198.3" y1="301.8" x2="198.3" y2="243.3" stroke="#000" stroke-width="1.8" stroke-dasharray="4 2.5"/><path d="M194.1,250.3 L198.3,243.1 L202.5,250.3" fill="none" stroke="#000" stroke-width="1.8" stroke-linejoin="miter"/><text x="11.7" y="326.2" font-size="16" textLength="87.5" lengthAdjust="spacingAndGlyphs" transform="rotate(-90 11.7 326.2)">Current(μA)</text><text x="126.8" y="383.8" font-size="15.5" text-anchor="middle" textLength="77.4" lengthAdjust="spacingAndGlyphs">Voltage(V)</text><text x="237.6" y="216.1" font-size="19.5">e</text><circle cx="292.9" cy="335.91" r="2.6" fill="#f00"/><circle cx="292.4" cy="335.31" r="0.75" fill="#fff" opacity="0.7"/><circle cx="296.37" cy="335.2" r="2.6" fill="#f00"/><circle cx="295.87" cy="334.6" r="0.75" fill="#fff" opacity="0.7"/><circle cx="299.83" cy="334.48" r="2.6" fill="#f00"/><circle cx="299.33" cy="333.88" r="0.75" fill="#fff" opacity="0.7"/><circle cx="303.3" cy="333.77" r="2.6" fill="#f00"/><circle cx="302.8" cy="333.17" r="0.75" fill="#fff" opacity="0.7"/><circle cx="306.76" cy="333.06" r="2.6" fill="#f00"/><circle cx="306.26" cy="332.46" r="0.75" fill="#fff" opacity="0.7"/><circle cx="310.23" cy="332.35" r="2.6" fill="#f00"/><circle cx="309.73" cy="331.75" r="0.75" fill="#fff" opacity="0.7"/><circle cx="313.69" cy="331.64" r="2.6" fill="#f00"/><circle cx="313.19" cy="331.04" r="0.75" fill="#fff" opacity="0.7"/><circle cx="317.15" cy="330.92" r="2.6" fill="#f00"/><circle cx="316.65" cy="330.32" r="0.75" fill="#fff" opacity="0.7"/><circle cx="320.62" cy="330.21" r="2.6" fill="#f00"/><circle cx="320.12" cy="329.61" r="0.75" fill="#fff" opacity="0.7"/><circle cx="324.08" cy="329.51" r="2.6" fill="#f00"/><circle cx="323.58" cy="328.91" r="0.75" fill="#fff" opacity="0.7"/><circle cx="327.55" cy="328.83" r="2.6" fill="#f00"/><circle cx="327.05" cy="328.23" r="0.75" fill="#fff" opacity="0.7"/><circle cx="331.01" cy="328.16" r="2.6" fill="#f00"/><circle cx="330.51" cy="327.56" r="0.75" fill="#fff" opacity="0.7"/><circle cx="334.48" cy="327.49" r="2.6" fill="#f00"/><circle cx="333.98" cy="326.89" r="0.75" fill="#fff" opacity="0.7"/><circle cx="337.94" cy="326.84" r="2.6" fill="#f00"/><circle cx="337.44" cy="326.24" r="0.75" fill="#fff" opacity="0.7"/><circle cx="341.41" cy="326.21" r="2.6" fill="#f00"/><circle cx="340.91" cy="325.61" r="0.75" fill="#fff" opacity="0.7"/><circle cx="344.88" cy="325.62" r="2.6" fill="#f00"/><circle cx="344.38" cy="325.02" r="0.75" fill="#fff" opacity="0.7"/><circle cx="348.34" cy="325.13" r="2.6" fill="#f00"/><circle cx="347.84" cy="324.53" r="0.75" fill="#fff" opacity="0.7"/><circle cx="351.81" cy="324.73" r="2.6" fill="#f00"/><circle cx="351.31" cy="324.13" r="0.75" fill="#fff" opacity="0.7"/><circle cx="355.27" cy="324.32" r="2.6" fill="#f00"/><circle cx="354.77" cy="323.72" r="0.75" fill="#fff" opacity="0.7"/><circle cx="358.74" cy="323.8" r="2.6" fill="#f00"/><circle cx="358.24" cy="323.2" r="0.75" fill="#fff" opacity="0.7"/><circle cx="362.2" cy="323.05" r="2.6" fill="#f00"/><circle cx="361.7" cy="322.45" r="0.75" fill="#fff" opacity="0.7"/><circle cx="365.66" cy="321.41" r="2.6" fill="#f00"/><circle cx="365.16" cy="320.81" r="0.75" fill="#fff" opacity="0.7"/><circle cx="369.13" cy="319.09" r="2.6" fill="#f00"/><circle cx="368.63" cy="318.49" r="0.75" fill="#fff" opacity="0.7"/><circle cx="372.59" cy="316.56" r="2.6" fill="#f00"/><circle cx="372.09" cy="315.96" r="0.75" fill="#fff" opacity="0.7"/><circle cx="376.06" cy="313.95" r="2.6" fill="#f00"/><circle cx="375.56" cy="313.35" r="0.75" fill="#fff" opacity="0.7"/><circle cx="379.52" cy="310.38" r="2.6" fill="#f00"/><circle cx="379.02" cy="309.78" r="0.75" fill="#fff" opacity="0.7"/><circle cx="382.99" cy="306.82" r="2.6" fill="#f00"/><circle cx="382.49" cy="306.22" r="0.75" fill="#fff" opacity="0.7"/><circle cx="386.45" cy="302.86" r="2.6" fill="#f00"/><circle cx="385.95" cy="302.26" r="0.75" fill="#fff" opacity="0.7"/><circle cx="389.92" cy="298.91" r="2.6" fill="#f00"/><circle cx="389.42" cy="298.31" r="0.75" fill="#fff" opacity="0.7"/><circle cx="393.38" cy="294.16" r="2.6" fill="#f00"/><circle cx="392.88" cy="293.56" r="0.75" fill="#fff" opacity="0.7"/><circle cx="396.85" cy="289.8" r="2.6" fill="#f00"/><circle cx="396.35" cy="289.2" r="0.75" fill="#fff" opacity="0.7"/><circle cx="400.31" cy="283.47" r="2.6" fill="#f00"/><circle cx="399.81" cy="282.87" r="0.75" fill="#fff" opacity="0.7"/><circle cx="403.78" cy="277.14" r="2.6" fill="#f00"/><circle cx="403.28" cy="276.54" r="0.75" fill="#fff" opacity="0.7"/><circle cx="407.25" cy="270.8" r="2.6" fill="#f00"/><circle cx="406.75" cy="270.2" r="0.75" fill="#fff" opacity="0.7"/><circle cx="410.71" cy="264.47" r="2.6" fill="#f00"/><circle cx="410.21" cy="263.87" r="0.75" fill="#fff" opacity="0.7"/><circle cx="414.17" cy="257.35" r="2.6" fill="#f00"/><circle cx="413.67" cy="256.75" r="0.75" fill="#fff" opacity="0.7"/><circle cx="417.64" cy="251.41" r="2.6" fill="#f00"/><circle cx="417.14" cy="250.81" r="0.75" fill="#fff" opacity="0.7"/><circle cx="421.1" cy="245.08" r="2.6" fill="#f00"/><circle cx="420.6" cy="244.48" r="0.75" fill="#fff" opacity="0.7"/><circle cx="424.57" cy="238.74" r="2.6" fill="#f00"/><circle cx="424.07" cy="238.14" r="0.75" fill="#fff" opacity="0.7"/><circle cx="428.03" cy="231.62" r="2.6" fill="#f00"/><circle cx="427.53" cy="231.02" r="0.75" fill="#fff" opacity="0.7"/><circle cx="431.5" cy="225.68" r="2.6" fill="#f00"/><circle cx="431" cy="225.08" r="0.75" fill="#fff" opacity="0.7"/><circle cx="292.9" cy="326.93" r="2.3" fill="#fff" stroke="#f00" stroke-width="1.0"/><circle cx="292.9" cy="326.93" r="0.55" fill="#f00" opacity="0.7"/><circle cx="296.37" cy="326.64" r="2.3" fill="#fff" stroke="#f00" stroke-width="1.0"/><circle cx="296.37" cy="326.64" r="0.55" fill="#f00" opacity="0.7"/><circle cx="299.83" cy="326.37" r="2.3" fill="#fff" stroke="#f00" stroke-width="1.0"/><circle cx="299.83" cy="326.37" r="0.55" fill="#f00" opacity="0.7"/><circle cx="303.3" cy="326.11" r="2.3" fill="#fff" stroke="#f00" stroke-width="1.0"/><circle cx="303.3" cy="326.11" r="0.55" fill="#f00" opacity="0.7"/><circle cx="306.76" cy="325.86" r="2.3" fill="#fff" stroke="#f00" stroke-width="1.0"/><circle cx="306.76" cy="325.86" r="0.55" fill="#f00" opacity="0.7"/><circle cx="310.23" cy="325.62" r="2.3" fill="#fff" stroke="#f00" stroke-width="1.0"/><circle cx="310.23" cy="325.62" r="0.55" fill="#f00" opacity="0.7"/><circle cx="313.69" cy="325.4" r="2.3" fill="#fff" stroke="#f00" stroke-width="1.0"/><circle cx="313.69" cy="325.4" r="0.55" fill="#f00" opacity="0.7"/><circle cx="317.15" cy="325.18" r="2.3" fill="#fff" stroke="#f00" stroke-width="1.0"/><circle cx="317.15" cy="325.18" r="0.55" fill="#f00" opacity="0.7"/><circle cx="320.62" cy="324.97" r="2.3" fill="#fff" stroke="#f00" stroke-width="1.0"/><circle cx="320.62" cy="324.97" r="0.55" fill="#f00" opacity="0.7"/><circle cx="324.08" cy="324.78" r="2.3" fill="#fff" stroke="#f00" stroke-width="1.0"/><circle cx="324.08" cy="324.78" r="0.55" fill="#f00" opacity="0.7"/><circle cx="327.55" cy="324.59" r="2.3" fill="#fff" stroke="#f00" stroke-width="1.0"/><circle cx="327.55" cy="324.59" r="0.55" fill="#f00" opacity="0.7"/><circle cx="331.01" cy="324.43" r="2.3" fill="#fff" stroke="#f00" stroke-width="1.0"/><circle cx="331.01" cy="324.43" r="0.55" fill="#f00" opacity="0.7"/><circle cx="334.48" cy="324.29" r="2.3" fill="#fff" stroke="#f00" stroke-width="1.0"/><circle cx="334.48" cy="324.29" r="0.55" fill="#f00" opacity="0.7"/><circle cx="337.94" cy="324.16" r="2.3" fill="#fff" stroke="#f00" stroke-width="1.0"/><circle cx="337.94" cy="324.16" r="0.55" fill="#f00" opacity="0.7"/><circle cx="341.41" cy="324.05" r="2.3" fill="#fff" stroke="#f00" stroke-width="1.0"/><circle cx="341.41" cy="324.05" r="0.55" fill="#f00" opacity="0.7"/><circle cx="344.88" cy="323.93" r="2.3" fill="#fff" stroke="#f00" stroke-width="1.0"/><circle cx="344.88" cy="323.93" r="0.55" fill="#f00" opacity="0.7"/><circle cx="348.34" cy="323.8" r="2.3" fill="#fff" stroke="#f00" stroke-width="1.0"/><circle cx="348.34" cy="323.8" r="0.55" fill="#f00" opacity="0.7"/><circle cx="351.81" cy="323.66" r="2.3" fill="#fff" stroke="#f00" stroke-width="1.0"/><circle cx="351.81" cy="323.66" r="0.55" fill="#f00" opacity="0.7"/><circle cx="355.27" cy="323.49" r="2.3" fill="#fff" stroke="#f00" stroke-width="1.0"/><circle cx="355.27" cy="323.49" r="0.55" fill="#f00" opacity="0.7"/><circle cx="358.74" cy="323.29" r="2.3" fill="#fff" stroke="#f00" stroke-width="1.0"/><circle cx="358.74" cy="323.29" r="0.55" fill="#f00" opacity="0.7"/><circle cx="362.2" cy="323.05" r="2.3" fill="#fff" stroke="#f00" stroke-width="1.0"/><circle cx="362.2" cy="323.05" r="0.55" fill="#f00" opacity="0.7"/><circle cx="365.66" cy="322.6" r="2.3" fill="#fff" stroke="#f00" stroke-width="1.0"/><circle cx="365.66" cy="322.6" r="0.55" fill="#f00" opacity="0.7"/><circle cx="369.13" cy="322.06" r="2.3" fill="#fff" stroke="#f00" stroke-width="1.0"/><circle cx="369.13" cy="322.06" r="0.55" fill="#f00" opacity="0.7"/><circle cx="372.59" cy="321.66" r="2.3" fill="#fff" stroke="#f00" stroke-width="1.0"/><circle cx="372.59" cy="321.66" r="0.55" fill="#f00" opacity="0.7"/><circle cx="376.06" cy="321.27" r="2.3" fill="#fff" stroke="#f00" stroke-width="1.0"/><circle cx="376.06" cy="321.27" r="0.55" fill="#f00" opacity="0.7"/><circle cx="379.52" cy="320.85" r="2.3" fill="#fff" stroke="#f00" stroke-width="1.0"/><circle cx="379.52" cy="320.85" r="0.55" fill="#f00" opacity="0.7"/><circle cx="382.99" cy="320.36" r="2.3" fill="#fff" stroke="#f00" stroke-width="1.0"/><circle cx="382.99" cy="320.36" r="0.55" fill="#f00" opacity="0.7"/><circle cx="386.45" cy="319.69" r="2.3" fill="#fff" stroke="#f00" stroke-width="1.0"/><circle cx="386.45" cy="319.69" r="0.55" fill="#f00" opacity="0.7"/><circle cx="389.92" cy="318.93" r="2.3" fill="#fff" stroke="#f00" stroke-width="1.0"/><circle cx="389.92" cy="318.93" r="0.55" fill="#f00" opacity="0.7"/><circle cx="393.38" cy="318.14" r="2.3" fill="#fff" stroke="#f00" stroke-width="1.0"/><circle cx="393.38" cy="318.14" r="0.55" fill="#f00" opacity="0.7"/><circle cx="396.85" cy="317.35" r="2.3" fill="#fff" stroke="#f00" stroke-width="1.0"/><circle cx="396.85" cy="317.35" r="0.55" fill="#f00" opacity="0.7"/><circle cx="400.31" cy="316.64" r="2.3" fill="#fff" stroke="#f00" stroke-width="1.0"/><circle cx="400.31" cy="316.64" r="0.55" fill="#f00" opacity="0.7"/><circle cx="403.78" cy="315.93" r="2.3" fill="#fff" stroke="#f00" stroke-width="1.0"/><circle cx="403.78" cy="315.93" r="0.55" fill="#f00" opacity="0.7"/><circle cx="407.25" cy="315.14" r="2.3" fill="#fff" stroke="#f00" stroke-width="1.0"/><circle cx="407.25" cy="315.14" r="0.55" fill="#f00" opacity="0.7"/><circle cx="410.71" cy="314.34" r="2.3" fill="#fff" stroke="#f00" stroke-width="1.0"/><circle cx="410.71" cy="314.34" r="0.55" fill="#f00" opacity="0.7"/><circle cx="414.17" cy="313.57" r="2.3" fill="#fff" stroke="#f00" stroke-width="1.0"/><circle cx="414.17" cy="313.57" r="0.55" fill="#f00" opacity="0.7"/><circle cx="417.64" cy="312.76" r="2.3" fill="#fff" stroke="#f00" stroke-width="1.0"/><circle cx="417.64" cy="312.76" r="0.55" fill="#f00" opacity="0.7"/><circle cx="421.1" cy="311.8" r="2.3" fill="#fff" stroke="#f00" stroke-width="1.0"/><circle cx="421.1" cy="311.8" r="0.55" fill="#f00" opacity="0.7"/><circle cx="424.57" cy="310.78" r="2.3" fill="#fff" stroke="#f00" stroke-width="1.0"/><circle cx="424.57" cy="310.78" r="0.55" fill="#f00" opacity="0.7"/><circle cx="428.03" cy="309.79" r="2.3" fill="#fff" stroke="#f00" stroke-width="1.0"/><circle cx="428.03" cy="309.79" r="0.55" fill="#f00" opacity="0.7"/><circle cx="431.5" cy="308.8" r="2.3" fill="#fff" stroke="#f00" stroke-width="1.0"/><circle cx="431.5" cy="308.8" r="0.55" fill="#f00" opacity="0.7"/><line x1="362.4" y1="213.5" x2="362.4" y2="352.3" stroke="#000" stroke-opacity="0.4" stroke-width="1"/><line x1="275.5" y1="323.4" x2="449" y2="323.4" stroke="#000" stroke-opacity="0.4" stroke-width="1"/><rect x="275.5" y="213.5" width="173.5" height="138.8" fill="none" stroke="#000" stroke-width="1.0"/><line x1="272.5" y1="228.06" x2="275.5" y2="228.06" stroke="#000" stroke-width="1"/><text font-size="10.5" text-anchor="end" transform="translate(271.5 231.76) scale(1.05 1)">240</text><line x1="272.5" y1="259.72" x2="275.5" y2="259.72" stroke="#000" stroke-width="1"/><g transform="translate(271.5 263.42) scale(1.0500 1)"><text x="-17.52" y="0" font-size="10.5"><tspan style="fill:none;stroke:none">1</tspan>60</text><path d="M478,0L478,1170L140,959L140,1180L493,1409L759,1409L759,0Z" transform="translate(-17.519 0) scale(0.005127 -0.005127)" fill="#000" stroke="#000" stroke-width="0.3" vector-effect="non-scaling-stroke"/></g><line x1="272.5" y1="291.39" x2="275.5" y2="291.39" stroke="#000" stroke-width="1"/><text font-size="10.5" text-anchor="end" transform="translate(271.5 295.09) scale(1.05 1)">80</text><line x1="272.5" y1="323.05" x2="275.5" y2="323.05" stroke="#000" stroke-width="1"/><text font-size="10.5" text-anchor="end" transform="translate(271.5 326.75) scale(1.05 1)">0</text><line x1="292.9" y1="352.3" x2="292.9" y2="355.3" stroke="#000" stroke-width="1"/><text font-size="10.5" text-anchor="middle" transform="translate(292.9 366.1) scale(1.05 1)">-2</text><line x1="327.55" y1="352.3" x2="327.55" y2="355.3" stroke="#000" stroke-width="1"/><g transform="translate(327.55 366.1) scale(1.0500 1)"><text x="-4.67" y="0" font-size="10.5">-<tspan style="fill:none;stroke:none">1</tspan></text><path d="M478,0L478,1170L140,959L140,1180L493,1409L759,1409L759,0Z" transform="translate(-1.172 0) scale(0.005127 -0.005127)" fill="#000" stroke="#000" stroke-width="0.3" vector-effect="non-scaling-stroke"/></g><line x1="362.2" y1="352.3" x2="362.2" y2="355.3" stroke="#000" stroke-width="1"/><text font-size="10.5" text-anchor="middle" transform="translate(362.2 366.1) scale(1.05 1)">0</text><line x1="396.85" y1="352.3" x2="396.85" y2="355.3" stroke="#000" stroke-width="1"/><g transform="translate(396.85 366.1) scale(1.0500 1)"><text x="-2.92" y="0" font-size="10.5"><tspan style="fill:none;stroke:none">1</tspan></text><path d="M478,0L478,1170L140,959L140,1180L493,1409L759,1409L759,0Z" transform="translate(-2.920 0) scale(0.005127 -0.005127)" fill="#000" stroke="#000" stroke-width="0.3" vector-effect="non-scaling-stroke"/></g><line x1="431.5" y1="352.3" x2="431.5" y2="355.3" stroke="#000" stroke-width="1"/><text font-size="10.5" text-anchor="middle" transform="translate(431.5 366.1) scale(1.05 1)">2</text><circle cx="287.3" cy="230.8" r="2.4" fill="#fff" stroke="#f00" stroke-width="1.0"/><circle cx="287.3" cy="230.8" r="0.55" fill="#f00" opacity="0.7"/><circle cx="287.3" cy="245.1" r="2.7" fill="#f00"/><circle cx="286.8" cy="244.5" r="0.75" fill="#fff" opacity="0.7"/><text x="295.3" y="233.1" font-size="10.2" textLength="81.8" lengthAdjust="spacingAndGlyphs">MC (UV 20 min)</text><text transform="translate(295.3 247) scale(1.07 1)" font-size="10.2">SO<tspan font-size="7" dy="3.1">2</tspan></text><line x1="432.6" y1="300" x2="432.6" y2="242.4" stroke="#000" stroke-width="1.8" stroke-dasharray="4 2.5"/><path d="M428.4,249.4 L432.6,242.2 L436.8,249.4" fill="none" stroke="#000" stroke-width="1.8" stroke-linejoin="miter"/><text x="248.4" y="327.3" font-size="16" textLength="87.6" lengthAdjust="spacingAndGlyphs" transform="rotate(-90 248.4 327.3)">Current(μA)</text><text x="362.2" y="383.6" font-size="15.5" text-anchor="middle" textLength="77.4" lengthAdjust="spacingAndGlyphs">Voltage(V)</text><text x="473.6" y="216.3" font-size="19.5">f</text><rect x="512" y="214" width="171.5" height="138.5" fill="none" stroke="#000" stroke-width="1.0"/><line x1="509.5" y1="237.8" x2="512" y2="237.8" stroke="#000" stroke-width="1"/><text font-size="10.5" text-anchor="end" transform="translate(509.6 241.4) scale(1.15 1)">200</text><line x1="509.5" y1="266.45" x2="512" y2="266.45" stroke="#000" stroke-width="1"/><g transform="translate(509.6 270.05) scale(1.1500 1)"><text x="-17.52" y="0" font-size="10.5"><tspan style="fill:none;stroke:none">1</tspan>50</text><path d="M478,0L478,1170L140,959L140,1180L493,1409L759,1409L759,0Z" transform="translate(-17.519 0) scale(0.005127 -0.005127)" fill="#000" stroke="#000" stroke-width="0.3" vector-effect="non-scaling-stroke"/></g><line x1="509.5" y1="295.1" x2="512" y2="295.1" stroke="#000" stroke-width="1"/><g transform="translate(509.6 298.7) scale(1.1500 1)"><text x="-17.52" y="0" font-size="10.5"><tspan style="fill:none;stroke:none">1</tspan>00</text><path d="M478,0L478,1170L140,959L140,1180L493,1409L759,1409L759,0Z" transform="translate(-17.519 0) scale(0.005127 -0.005127)" fill="#000" stroke="#000" stroke-width="0.3" vector-effect="non-scaling-stroke"/></g><line x1="509.5" y1="323.75" x2="512" y2="323.75" stroke="#000" stroke-width="1"/><text font-size="10.5" text-anchor="end" transform="translate(509.6 327.35) scale(1.15 1)">50</text><line x1="509.5" y1="352.4" x2="512" y2="352.4" stroke="#000" stroke-width="1"/><text font-size="10.5" text-anchor="end" transform="translate(509.6 356) scale(1.15 1)">0</text><rect x="532.75" y="336.6" width="14.9" height="15.9" fill="#f24bdc" stroke="#000" stroke-width="1.5"/><line x1="540.2" y1="352.5" x2="540.2" y2="355.5" stroke="#000" stroke-width="1"/><rect x="570.75" y="300.6" width="14.9" height="51.9" fill="#7ff8f8" stroke="#000" stroke-width="1.5"/><line x1="578.2" y1="352.5" x2="578.2" y2="355.5" stroke="#000" stroke-width="1"/><rect x="608.85" y="239" width="14.9" height="113.5" fill="#b444e4" stroke="#000" stroke-width="1.5"/><line x1="616.3" y1="352.5" x2="616.3" y2="355.5" stroke="#000" stroke-width="1"/><rect x="646.95" y="232" width="14.9" height="120.5" fill="#ff4040" stroke="#000" stroke-width="1.5"/><line x1="654.4" y1="352.5" x2="654.4" y2="355.5" stroke="#000" stroke-width="1"/><path d="M611.3,234.7 H620.4 M616.1,234.7 V242.6 M611.3,242.6 H620.4" stroke="#000" stroke-width="1.3" fill="none"/><circle cx="533.9" cy="336.2" r="2.0" fill="#f050e8" stroke="#000" stroke-width="1.5"/><circle cx="540.1" cy="334.9" r="2.0" fill="#f050e8" stroke="#000" stroke-width="1.5"/><circle cx="546.4" cy="335.8" r="2.0" fill="#f050e8" stroke="#000" stroke-width="1.5"/><circle cx="571.9" cy="299.1" r="2.0" fill="#2ab0b0" stroke="#000" stroke-width="1.5"/><circle cx="578.2" cy="298.1" r="2.0" fill="#2ab0b0" stroke="#000" stroke-width="1.5"/><circle cx="584.5" cy="298.8" r="2.0" fill="#2ab0b0" stroke="#000" stroke-width="1.5"/><circle cx="616.1" cy="237.6" r="2.0" fill="#9030c8" stroke="#000" stroke-width="1.5"/><circle cx="616.1" cy="242.9" r="2.0" fill="#9030c8" stroke="#000" stroke-width="1.5"/><circle cx="648" cy="231.6" r="2.0" fill="#e00000" stroke="#000" stroke-width="1.5"/><circle cx="654.2" cy="229.1" r="2.0" fill="#e00000" stroke="#000" stroke-width="1.5"/><circle cx="660.6" cy="230.3" r="2.0" fill="#e00000" stroke="#000" stroke-width="1.5"/><circle cx="622.5" cy="235.2" r="2.1" fill="#c87cf0" stroke="#000" stroke-width="1.2"/><g transform="translate(540.2 365.6) scale(1.1500 1)"><text x="-2.92" y="0" font-size="10.5"><tspan style="fill:none;stroke:none">1</tspan></text><path d="M478,0L478,1170L140,959L140,1180L493,1409L759,1409L759,0Z" transform="translate(-2.920 0) scale(0.005127 -0.005127)" fill="#000" stroke="#000" stroke-width="0.3" vector-effect="non-scaling-stroke"/></g><text font-size="10.5" text-anchor="middle" transform="translate(578.2 365.6) scale(1.15 1)">5</text><g transform="translate(616.3 365.6) scale(1.1500 1)"><text x="-5.84" y="0" font-size="10.5"><tspan style="fill:none;stroke:none">1</tspan>0</text><path d="M478,0L478,1170L140,959L140,1180L493,1409L759,1409L759,0Z" transform="translate(-5.840 0) scale(0.005127 -0.005127)" fill="#000" stroke="#000" stroke-width="0.3" vector-effect="non-scaling-stroke"/></g><text font-size="10.5" text-anchor="middle" transform="translate(654.4 365.6) scale(1.15 1)">20</text><text x="512.4" y="381.2" font-size="15" textLength="172.3" lengthAdjust="spacingAndGlyphs">UV irradiation time(min)</text><text transform="translate(484.1 321.6) rotate(-90)" font-size="16.5"><tspan x="0" y="0">I</tspan><tspan font-size="12" dy="3.2">SO2</tspan><tspan font-size="15.3" dy="-3.2">(μA)</tspan></text>
</svg>
</body></html>
